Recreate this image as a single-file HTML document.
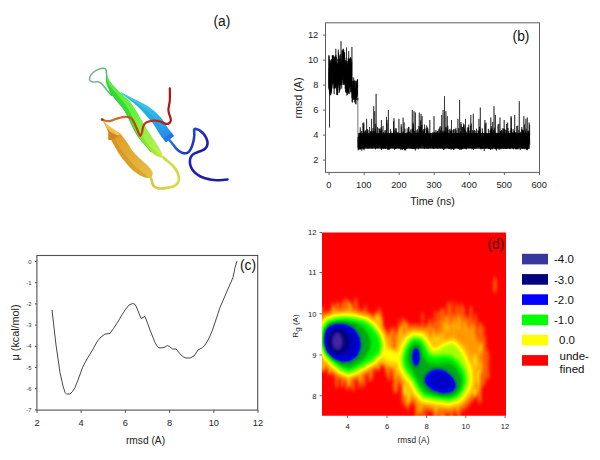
<!DOCTYPE html>
<html><head><meta charset="utf-8"><title>figure</title>
<style>
html,body{margin:0;padding:0;background:#fff;}
body{width:600px;height:460px;overflow:hidden;font-family:"Liberation Sans",sans-serif;}
svg{display:block;}
svg text{font-family:"Liberation Sans",sans-serif;}
</style></head><body>
<svg width="600" height="460" viewBox="0 0 600 460">
<rect width="600" height="460" fill="#fff"/>
<g id="pa">
<defs>
<filter id="soft" x="60" y="50" width="200" height="160" filterUnits="userSpaceOnUse"><feGaussianBlur stdDeviation="0.45"/></filter>
<linearGradient id="gGreen" gradientUnits="userSpaceOnUse" x1="104" y1="80" x2="164" y2="158">
 <stop offset="0" stop-color="#2fd23a"/><stop offset="0.45" stop-color="#38e030"/><stop offset="0.75" stop-color="#86e82c"/><stop offset="1" stop-color="#c8e838"/></linearGradient>
<linearGradient id="gGreenHi" gradientUnits="userSpaceOnUse" x1="104" y1="80" x2="164" y2="158">
 <stop offset="0" stop-color="#63f04a"/><stop offset="0.5" stop-color="#7cf83c"/><stop offset="1" stop-color="#d4f060"/></linearGradient>
<linearGradient id="gCyan" gradientUnits="userSpaceOnUse" x1="122" y1="93" x2="172" y2="139">
 <stop offset="0" stop-color="#46cfd8"/><stop offset="0.45" stop-color="#2fc0ea"/><stop offset="0.8" stop-color="#2a9ef0"/><stop offset="1" stop-color="#2a7ee6"/></linearGradient>
<linearGradient id="gOrange" gradientUnits="userSpaceOnUse" x1="108" y1="133" x2="150" y2="177">
 <stop offset="0" stop-color="#df9a2a"/><stop offset="0.5" stop-color="#e4aa34"/><stop offset="1" stop-color="#e6be44"/></linearGradient>
<linearGradient id="gBlue" gradientUnits="userSpaceOnUse" x1="168" y1="140" x2="228" y2="180">
 <stop offset="0" stop-color="#2a7ee6"/><stop offset="0.22" stop-color="#2448cc"/><stop offset="0.45" stop-color="#1c1cae"/><stop offset="1" stop-color="#1c1ca0"/></linearGradient>
<linearGradient id="gYellow" gradientUnits="userSpaceOnUse" x1="180" y1="160" x2="150" y2="186">
 <stop offset="0" stop-color="#c4de3e"/><stop offset="0.5" stop-color="#dcdc48"/><stop offset="1" stop-color="#d6c440"/></linearGradient>
<linearGradient id="gRed" gradientUnits="userSpaceOnUse" x1="102" y1="120" x2="172" y2="110">
 <stop offset="0" stop-color="#c8782c"/><stop offset="0.3" stop-color="#cc6422"/><stop offset="0.5" stop-color="#c83a14"/><stop offset="0.75" stop-color="#c02412"/><stop offset="1" stop-color="#a81414"/></linearGradient>
<linearGradient id="gLoop" gradientUnits="userSpaceOnUse" x1="89" y1="78" x2="108" y2="78">
 <stop offset="0" stop-color="#86aaa2"/><stop offset="0.55" stop-color="#7ab294"/><stop offset="0.85" stop-color="#5cbc6c"/><stop offset="1" stop-color="#3cc84c"/></linearGradient>
</defs>
<g filter="url(#soft)">
<path d="M111.5,95.3C111,94.8 109.6,93.5 108.5,92.2C107.4,91 106.2,89.2 105,87.8C103.8,86.4 102.7,84.6 101.5,83.6C100.3,82.6 99.1,82.1 98,81.8C96.9,81.5 96,82 95,82C94,82 92.9,82.1 92,81.7C91.1,81.3 89.7,80.8 89.5,79.6C89.3,78.4 89.9,76.3 91,74.8C92.1,73.3 94.4,71.5 96.3,70.4C98.2,69.3 100.9,68.5 102.4,68.3C104,68.1 104.9,68.3 105.6,69C106.3,69.7 106.2,71.4 106.4,72.5C106.6,73.6 106.6,74.6 106.7,75.7C106.8,76.8 107,78.5 107,79" fill="none" stroke="url(#gLoop)" stroke-width="1.5" stroke-linecap="round"/>
<path d="M120.5,91.8C121.4,92.3 124.3,93.9 126.1,94.8C127.8,95.7 129.3,96.4 131,97.3C132.7,98.2 134.7,99.2 136.4,100.1C138.2,101 139.8,101.8 141.5,102.7C143.2,103.6 145.1,104.5 146.7,105.4C148.2,106.3 149.5,107.2 150.8,108.2C152.1,109.2 153.1,109.9 154.6,111.3C156.1,112.7 158.4,115 159.8,116.5C161.2,118 161.9,118.8 163,120.3C164.1,121.8 164.9,123.4 166.1,125.2C167.3,127 169.1,129.5 170.4,131.3C171.7,133.1 173.3,135.3 173.9,136.1L166.1,142.2C165.5,141.5 164,140.3 162.6,138.3C161.2,136.3 159,132.9 157.4,130.4C155.8,127.9 154.5,125.5 153,123.5C151.5,121.5 150.3,120.3 148.5,118.3C146.7,116.3 144.4,113.5 142.4,111.3C140.4,109.1 138.5,107.2 136.3,105.2C134.1,103.2 131.4,101.3 129,99.5C126.6,97.7 123.2,95.3 122,94.5Z" fill="url(#gCyan)"/>
<path d="M123,94.5C124.3,95.3 128.3,97.8 131,99.5C133.7,101.2 136.4,102.8 139,104.5C141.6,106.2 144.2,108 146.5,110C148.8,112 151,114.2 153,116.5C155,118.8 156.8,121.1 158.5,123.5C160.2,125.9 161.6,128.4 163.5,131C165.4,133.6 168.8,137.8 169.8,139.2L166.1,142.2C165.5,141.5 164,140.3 162.6,138.3C161.2,136.3 159,132.9 157.4,130.4C155.8,127.9 154.5,125.5 153,123.5C151.5,121.5 150.3,120.3 148.5,118.3C146.7,116.3 144.4,113.5 142.4,111.3C140.4,109.1 138.5,107.2 136.3,105.2C134.1,103.2 130.2,100.5 129,99.5Z" fill="#1d8fd0" opacity="0.35"/>
<polygon points="173.9,136.1 166.1,142.2 163.6,138.6 171.8,132.5" fill="#2a6ee0" opacity="0.85"/>
<path d="M107.2,76C107.4,76.5 108.1,78 108.6,79C109.1,80 109.3,80.5 110.2,81.7C111.1,82.9 112.4,84.6 113.7,86.1C115,87.5 116.5,89 118,90.4C119.5,91.9 121,93.5 122.4,94.8C123.8,96.1 125.2,97.3 126.5,98.5C127.8,99.7 128.7,100.3 130,102C131.3,103.7 133.3,106.8 134.6,108.7C135.9,110.6 136.7,112 137.6,113.5C138.5,115 139,116.1 139.8,117.4C140.6,118.7 141.4,120 142.3,121.5C143.2,123 143.7,123.9 145,126.1C146.3,128.3 148.4,132.1 150.2,134.8C152,137.6 154.1,140.1 155.7,142.6C157.3,145.1 158.9,147.7 160,149.6C161.1,151.5 161.7,153.3 162,154L163,158C162.5,157.9 161.1,157.6 160,157.3C158.9,157 157.9,156.8 156.5,156C155.1,155.2 153.2,154 151.3,152.2C149.4,150.4 147.1,147.4 145.2,145.2C143.3,143 141.4,141.2 139.8,139C138.2,136.8 137,135.1 135.4,132.2C133.8,129.3 131.9,125.2 130.2,121.7C128.5,118.2 126.5,113.9 125,111.3C123.5,108.7 122.5,107.9 121,106C119.5,104.1 117.5,101.9 116,100C114.5,98.1 113.1,96.4 112,94.8C110.9,93.2 110.1,91.9 109.3,90.4C108.5,89 107.8,87.5 107.2,86.1C106.7,84.6 106.2,83.2 106,81.7C105.8,80.2 105.8,77.8 105.8,77Z" fill="url(#gGreen)"/>
<path d="M107.2,76C107.4,76.5 108.1,78 108.6,79C109.1,80 109.3,80.5 110.2,81.7C111.1,82.9 112.4,84.6 113.7,86.1C115,87.5 116.5,89 118,90.4C119.5,91.9 121,93.5 122.4,94.8C123.8,96.1 125.2,97.3 126.5,98.5C127.8,99.7 128.7,100.3 130,102C131.3,103.7 133.3,106.8 134.6,108.7C135.9,110.6 136.7,112 137.6,113.5C138.5,115 139,116.1 139.8,117.4C140.6,118.7 141.4,120 142.3,121.5C143.2,123 143.7,123.9 145,126.1C146.3,128.3 148.4,132.1 150.2,134.8C152,137.6 154.1,140.1 155.7,142.6C157.3,145.1 158.9,147.7 160,149.6C161.1,151.5 161.7,153.3 162,154L162,156C161.1,155.3 158.5,153.7 156.5,152C154.5,150.3 152.2,148.3 150,146C147.8,143.7 145.5,140.9 143.5,138C141.5,135.1 139.8,132 138,128.5C136.2,125 134.3,120.6 132.5,117C130.7,113.4 128.9,110 127,107C125.1,104 123.2,101.7 121,99C118.8,96.3 116,93.3 114,91C112,88.7 110.2,87 109,85C107.8,83 107.2,80 106.8,79Z" fill="url(#gGreenHi)" opacity="0.75"/>
<path d="M109.3,90.4C109.8,91.1 110.9,93.2 112,94.8C113.1,96.4 114.5,98.1 116,100C117.5,101.9 119.5,104.1 121,106C122.5,107.9 123.5,108.7 125,111.3C126.5,113.9 128.5,118.2 130.2,121.7C131.9,125.2 133.8,129.3 135.4,132.2C137,135.1 138.2,136.8 139.8,139C141.4,141.2 143.3,143 145.2,145.2C147.1,147.4 150.3,151 151.3,152.2" fill="none" stroke="#1e9c2c" stroke-width="1" opacity="0.55"/>
<path d="M163.2,157.5C163.8,158 165.2,159 166.8,160.4C168.4,161.8 171,163.6 172.8,165.7C174.6,167.8 176.6,170.4 177.6,172.8C178.6,175.2 179.2,177.9 178.9,180C178.6,182.1 177.5,184 175.5,185.3C173.5,186.6 169.9,187.3 167,187.8C164.1,188.3 160.3,188.7 158,188.3C155.7,187.9 154.4,186.9 153.3,185.5C152.2,184.1 152.2,181.7 151.6,180C151,178.3 150.3,176.2 150,175.5" fill="none" stroke="url(#gYellow)" stroke-width="2.7" stroke-linecap="round"/>
<path d="M111,139.6C111.6,140.7 113.3,143.9 114.5,146C115.7,148.1 116.8,150 118,152C119.2,154 120.6,156.1 122,158C123.4,159.9 125.1,161.8 126.5,163.5C127.9,165.2 129.1,166.6 130.5,168C131.9,169.4 133.4,170.6 134.8,171.7C136.2,172.8 137.6,173.9 139,174.8C140.4,175.7 142.8,176.6 143.5,177 C146.5,178.6 151.5,178.8 152.8,174 L152.4,171.5 L150,168.3 L147,164.8 L143,161.5 L139.1,157.8 L134.8,153.5 L131.5,149.5 L128.7,144.8 L125,139.5 L120.9,134.3Z" fill="url(#gOrange)"/>
<path d="M111,139.6C111.6,140.7 113.3,143.9 114.5,146C115.7,148.1 116.8,150 118,152C119.2,154 120.6,156.1 122,158C123.4,159.9 125.1,161.8 126.5,163.5C127.9,165.2 129.1,166.6 130.5,168C131.9,169.4 133.4,170.6 134.8,171.7C136.2,172.8 137.6,173.9 139,174.8C140.4,175.7 142.8,176.6 143.5,177L148.5,177.3 L145,174.5 L140,170.5 L135.5,166.5 L131,162 L126.5,156.5 L122,150.5 L118,144.5 L114,138.2Z" fill="#c98a1c" opacity="0.45"/>
<polygon points="103,121 105.5,123.5 110,127.5 116,131.2 121.2,134.2 116,137.8 111,140 108.2,140 108.2,132 106,127" fill="#cf8620"/>
<polygon points="103.8,122 107,124.4 112,128 121.2,134.2 117.5,135.6 110.5,132 106.3,127.4" fill="#f2c246"/>
<path d="M102.1,119.6C102.8,119.8 104.6,120.8 106,121C107.4,121.2 109,121.2 110.5,120.9C112,120.6 113.5,119.8 115,119.3C116.5,118.8 118,118.3 119.6,117.9C121.2,117.5 123,116.9 124.5,116.8C126,116.7 127.5,116.8 128.7,117.1C129.9,117.4 130.7,117.9 131.5,118.6C132.3,119.3 132.8,119.8 133.6,121.4C134.4,123 135.8,126.1 136.6,128C137.4,129.9 138,131.7 138.6,133C139.2,134.3 139.7,135.9 140.3,135.8C140.9,135.7 141.5,134.1 142,132.5C142.5,130.9 142.5,128.2 143.2,126.5C143.8,124.8 144.6,123.5 145.9,122.6C147.2,121.6 149.5,121.1 151.1,120.8C152.7,120.5 154.2,120.6 155.5,120.7C156.8,120.8 158,120.9 159.2,121.2C160.4,121.5 161.5,122.1 162.5,122.5C163.5,122.9 164.2,123.4 165.2,123.6C166.2,123.8 167.6,123.9 168.5,123.6C169.4,123.3 170,122.6 170.4,121.8C170.8,121 170.9,120.1 170.7,118.7C170.5,117.3 169.4,115 169,113.5C168.6,112 168.4,111.1 168.4,109.6C168.4,108.1 169,106 169.2,104.5C169.4,103 169.7,102.2 169.8,100.5C169.9,98.8 169.9,96 169.9,94C169.9,92 169.8,89.2 169.8,88.3" fill="none" stroke="url(#gRed)" stroke-width="2.2" stroke-linecap="round" stroke-linejoin="round"/>
<circle cx="102.2" cy="119.6" r="1.4" fill="#8a3a10"/>
<path d="M168.5,139.3C169,139.8 170.3,141 171.5,142.5C172.7,144 174.7,146.8 175.9,148.2C177.2,149.6 177.9,150.2 179,151C180.1,151.8 181.5,152.5 182.7,152.9C183.9,153.3 185,153.4 186,153.2C187,153 188,152.6 188.8,151.8C189.6,151 190.4,149.7 191,148.5C191.6,147.3 192.1,145.9 192.6,144.4C193.1,142.9 193.5,141 193.8,139.5C194.1,138 194.2,136.5 194.3,135.2C194.4,133.9 194.2,132.5 194.2,131.5C194.2,130.5 193.8,129.6 194.3,129.2C194.8,128.8 196,128.9 197,129.2C198,129.5 199.2,130.1 200.3,130.9C201.4,131.7 202.8,133 203.8,134.2C204.8,135.4 205.7,137 206.3,138.3C206.9,139.6 207.4,140.7 207.5,142C207.6,143.3 207.5,144.8 207.1,145.9C206.7,147 205.9,147.9 205,148.7C204.1,149.5 203,150 201.8,150.6C200.6,151.2 199.3,151.5 198,152C196.7,152.5 195.3,153.1 194.2,153.7C193.1,154.3 192.2,155 191.6,155.8C190.9,156.6 190.6,157.5 190.3,158.5C190,159.5 189.9,160.8 189.9,162C189.9,163.2 190.1,164.4 190.5,165.7C190.9,167 191.6,168.5 192.5,169.8C193.4,171.1 194.4,172.2 195.7,173.3C197,174.4 198.7,175.6 200.5,176.5C202.3,177.4 204.5,178 206.3,178.6C208.1,179.2 209.7,179.5 211.5,179.8C213.3,180.1 215.2,180.2 217,180.2C218.8,180.2 220.8,180.1 222.5,180C224.2,179.9 226.7,179.6 227.5,179.5" fill="none" stroke="url(#gBlue)" stroke-width="2.6" stroke-linecap="round" stroke-linejoin="round"/>
</g>
<text x="213.4" y="26.1" font-size="13.8" fill="#111">(a)</text>
</g>
<g id="pb">
<path d="M328.8,68.4 328.8,72.1 328.9,89.5 328.9,55 329,87.9 329,68 329.1,56.1 329.1,61 329.2,81.2 329.3,85.5 329.3,72.5 329.4,91.7 329.4,82.6 329.5,78.4 329.5,127.5 329.6,76.6 329.6,59.4 329.7,81.3 329.8,94.4 329.8,65.9 329.9,67.6 329.9,72.6 330,75 330,92.8 330.1,66.4 330.2,85.4 330.2,91.8 330.3,95.4 330.3,82 330.4,92.8 330.4,67.2 330.5,87.9 330.5,63.6 330.6,90.6 330.7,74.7 330.7,95 330.8,60.3 330.8,75.4 330.9,61 330.9,62.2 331,91.9 331.1,92.5 331.1,81.8 331.2,93.7 331.2,91.8 331.3,69 331.3,78.4 331.4,59.2 331.4,89.2 331.5,79.3 331.6,91 331.6,72.7 331.7,73 331.7,60.5 331.8,86.6 331.8,71.8 331.9,61.8 331.9,59.5 332,82.2 332.1,76.5 332.1,66.8 332.2,75.1 332.2,75.3 332.3,80.9 332.3,55.4 332.4,69.8 332.5,63.1 332.5,59.3 332.6,60 332.6,59.6 332.7,55.3 332.7,83.8 332.8,58.6 332.8,56 332.9,67.3 333,88.5 333,55.1 333.1,58.7 333.1,80.3 333.2,68.5 333.2,57 333.3,73.7 333.4,55.6 333.4,70.9 333.5,73.3 333.5,83.3 333.6,77.9 333.6,70.9 333.7,81.3 333.7,60.8 333.8,57.6 333.9,69.6 333.9,77.4 334,76.5 334,59.7 334.1,76.2 334.1,92 334.2,94.1 334.3,65.6 334.3,88.3 334.4,61.2 334.4,86.5 334.5,58.6 334.5,88.7 334.6,88.3 334.6,61.1 334.7,83.2 334.8,76.1 334.8,56.7 334.9,83.3 334.9,88.2 335,59.8 335,59.4 335.1,66.9 335.1,75.5 335.2,55.7 335.3,58.7 335.3,59 335.4,57.5 335.4,86.1 335.5,85 335.5,83 335.6,80.5 335.7,82.9 335.7,88.3 335.8,48.8 335.8,87.9 335.9,75.3 335.9,71.9 336,55.2 336,67.3 336.1,79.8 336.2,64.7 336.2,86.1 336.3,65.8 336.3,83.9 336.4,76.9 336.4,57.3 336.5,58 336.6,75.1 336.6,88.1 336.7,95 336.7,87.3 336.8,84.6 336.8,70.5 336.9,62.4 336.9,91.2 337,69.4 337.1,68.6 337.1,63.9 337.2,64.3 337.2,64.6 337.3,68 337.3,93.9 337.4,63.9 337.5,71.1 337.5,95 337.6,68.1 337.6,95.2 337.7,88.3 337.7,89.9 337.8,58.8 337.8,70.6 337.9,72 338,84.8 338,82.5 338.1,83.3 338.1,67.4 338.2,76.2 338.2,87.8 338.3,49.6 338.3,57.5 338.4,81.5 338.5,81.3 338.5,52.8 338.6,52.5 338.6,77.9 338.7,67.4 338.7,78.3 338.8,76.9 338.9,61.7 338.9,85.6 339,80 339,78.7 339.1,78.2 339.1,93 339.2,59.1 339.2,84.9 339.3,58.5 339.4,62.7 339.4,70.1 339.5,90.4 339.5,70 339.6,91.6 339.6,79.6 339.7,63.8 339.8,80.4 339.8,75.2 339.9,55.8 339.9,81 340,82.9 340,85 340.1,78.3 340.1,54.5 340.2,69.4 340.3,76 340.3,84.7 340.4,63 340.4,77.4 340.5,69.4 340.5,84.3 340.6,60.9 340.7,89.4 340.7,54.5 340.8,78.2 340.8,84.5 340.9,64.6 340.9,65.5 341,65.1 341,41.2 341.1,85.1 341.2,67.6 341.2,70.6 341.3,83.4 341.3,73.6 341.4,66.7 341.4,82.6 341.5,65.3 341.5,65.1 341.6,80.7 341.7,88.5 341.7,74.5 341.8,62 341.8,80.2 341.9,80.4 341.9,58.7 342,79.2 342.1,71.4 342.1,72 342.2,50.7 342.2,72.4 342.3,54.2 342.3,72.6 342.4,50.4 342.4,70 342.5,71.9 342.6,70.7 342.6,79.7 342.7,53.8 342.7,67.8 342.8,51.1 342.8,72.2 342.9,54.6 343,83.7 343,73.6 343.1,49.1 343.1,60.7 343.2,54.5 343.2,53.7 343.3,58.8 343.3,64.5 343.4,48.8 343.5,64.9 343.5,75.9 343.6,54.5 343.6,73.9 343.7,84.9 343.7,58.4 343.8,65.9 343.8,50.1 343.9,83.2 344,68.1 344,72.3 344.1,62.6 344.1,82.6 344.2,77.9 344.2,83 344.3,80 344.4,76 344.4,52.3 344.5,65 344.5,83.7 344.6,52.6 344.6,78.3 344.7,66.4 344.7,71.7 344.8,57.7 344.9,83 344.9,74 345,81.1 345,77.3 345.1,66 345.1,62 345.2,88.8 345.3,68.4 345.3,85.3 345.4,80.8 345.4,80.1 345.5,60.2 345.5,78 345.6,91.6 345.6,76.8 345.7,77.4 345.8,92.6 345.8,91.5 345.9,82.7 345.9,76.3 346,90.8 346,86.3 346.1,61.1 346.2,61.9 346.2,62.4 346.3,66.3 346.3,81.1 346.4,87.5 346.4,76.7 346.5,47.5 346.5,92.9 346.6,62.9 346.7,72.1 346.7,79.4 346.8,79.7 346.8,95.6 346.9,77.7 346.9,78.5 347,79.8 347,92.9 347.1,76.1 347.2,67.9 347.2,76.4 347.3,60.9 347.3,64.2 347.4,89.1 347.4,79.8 347.5,67.7 347.6,94.9 347.6,63.4 347.7,66.9 347.7,92 347.8,80.4 347.8,92.2 347.9,72.2 347.9,92.1 348,70.5 348.1,71.5 348.1,90.3 348.2,65 348.2,58.5 348.3,80.2 348.3,67.1 348.4,70.5 348.5,73.2 348.5,93.7 348.6,71.7 348.6,92.2 348.7,70 348.7,51.3 348.8,74.5 348.8,77.9 348.9,58.8 349,69.6 349,63.7 349.1,68.8 349.1,79.7 349.2,67.9 349.2,60.4 349.3,86.4 349.4,58.9 349.4,87.1 349.5,75.7 349.5,82.7 349.6,93.1 349.6,94.1 349.7,68.1 349.7,87.4 349.8,88.3 349.9,71.7 349.9,69 350,67.2 350,86.9 350.1,58 350.1,87 350.2,81.5 350.2,82 350.3,66.9 350.4,57 350.4,60.5 350.5,67.1 350.5,71.1 350.6,59.4 350.6,58.1 350.7,84.6 350.8,67.2 350.8,92.4 350.9,65.4 350.9,91.8 351,87.7 351,89.1 351.1,68.2 351.1,70.1 351.2,64.9 351.3,80.9 351.3,81.4 351.4,78.1 351.4,58.6 351.5,89.8 351.5,79.9 351.6,72 351.7,61.1 351.7,92.2 351.8,91.9 351.8,76.9 351.9,81.6 351.9,46.9 352,98 352,85.4 352.1,87.4 352.2,101.9 352.2,83.2 352.3,88.2 352.3,94.7 352.4,81.1 352.4,102.7 352.5,97.3 352.6,89.8 352.6,91.8 352.7,89.4 352.7,88 352.8,85 352.8,94 352.9,81.2 352.9,85.6 353,91.6 353.1,83.2 353.1,91.6 353.2,80.7 353.2,96 353.3,85 353.3,99.2 353.4,97.1 353.4,99.7 353.5,94.7 353.6,83.6 353.6,98.6 353.7,91.1 353.7,77.5 353.8,89.9 353.8,97.2 353.9,97.2 354,92.7 354,81.6 354.1,84.1 354.1,91.1 354.2,99.6 354.2,84.3 354.3,80.3 354.3,85.2 354.4,93.4 354.5,81.2 354.5,83 354.6,85.8 354.6,87.9 354.7,88.7 354.7,102.4 354.8,87.1 354.9,88.6 354.9,93.1 355,88.1 355,80.7 355.1,99.7 355.1,94.9 355.2,93 355.2,91.3 355.3,101.2 355.4,91.5 355.4,103.7 355.5,88 355.5,93.6 355.6,93.8 355.6,97.4 355.7,89.5 355.8,97.1 355.8,81.3 355.9,97.9 355.9,96.1 356,104.4 356,88.3 356.1,96.9 356.1,86.6 356.2,80.8 356.3,84.8 356.3,95.5 356.4,85.2 356.4,83.9 356.5,90.8 356.5,100 356.6,88.5 356.6,83.8 356.7,97.2 356.8,91.1 356.8,95.2 356.9,81.4 356.9,97.1 357,92 357,84.3 357.1,95.8 357.2,90.7 357.2,91.5 357.3,93.9 357.3,79.7 357.4,82.2 357.4,80.3 357.5,82.2 357.5,87.7 357.6,79.2 357.7,86.9 357.7,100.4 357.8,97.7 357.8,99.7 357.9,136.7 357.9,140.5 358,141 358.1,147.6 358.1,136.9 358.2,142.6 358.2,150.3 358.3,141.4 358.3,140 358.4,149.2 358.4,139.1 358.5,145.1 358.6,146.6 358.6,148.4 358.7,141.7 358.7,140.5 358.8,148.7 358.8,144.9 358.9,144.1 358.9,149.2 359,140.6 359.1,145.5 359.1,142.1 359.2,136.6 359.2,145.3 359.3,138.2 359.3,135.7 359.4,146.1 359.5,143.2 359.5,139.1 359.6,139.3 359.6,140.3 359.7,147.4 359.7,136.1 359.8,148.7 359.8,138.9 359.9,143.2 360,150 360,146.1 360.1,146.7 360.1,145.2 360.2,132.2 360.2,141.2 360.3,127.4 360.4,146.5 360.4,148.5 360.5,136.4 360.5,145.7 360.6,148.1 360.6,148.5 360.7,134.4 360.7,139.7 360.8,139.6 360.9,143.4 360.9,149.1 361,140.2 361,144.9 361.1,142.9 361.1,142.1 361.2,146.9 361.3,141.2 361.3,141.4 361.4,134.5 361.4,148 361.5,144 361.5,131 361.6,144.3 361.6,143.9 361.7,135.8 361.8,150.7 361.8,140.6 361.9,148.2 361.9,143.6 362,148.3 362,142.2 362.1,141.2 362.1,145.7 362.2,148 362.3,142.9 362.3,148.4 362.4,136.2 362.4,147.6 362.5,140.5 362.5,144 362.6,143.2 362.7,140.2 362.7,146.9 362.8,145.5 362.8,147.1 362.9,142.8 362.9,122.8 363,136.9 363,146.3 363.1,146.8 363.2,149.3 363.2,147.6 363.3,132.8 363.3,131.6 363.4,142.5 363.4,143.4 363.5,136.2 363.6,143.2 363.6,124.3 363.7,143.8 363.7,134.8 363.8,136.1 363.8,122.5 363.9,142.2 363.9,146.9 364,150.1 364.1,150.2 364.1,146.9 364.2,149 364.2,148.8 364.3,145.7 364.3,144.7 364.4,132.4 364.5,141.4 364.5,144 364.6,145.1 364.6,146.1 364.7,144.6 364.7,145.6 364.8,146.4 364.8,141.1 364.9,145 365,145.1 365,146.8 365.1,130.9 365.1,143.6 365.2,145 365.2,141.2 365.3,143.8 365.3,131 365.4,143.7 365.5,144.8 365.5,140.4 365.6,144.9 365.6,138.5 365.7,143.6 365.7,142.1 365.8,134.5 365.9,146.5 365.9,139 366,145.2 366,129.9 366.1,140.7 366.1,142.1 366.2,136 366.2,142.2 366.3,139.8 366.4,145.7 366.4,132.3 366.5,137.8 366.5,146.4 366.6,147.3 366.6,118.8 366.7,136.3 366.8,135.5 366.8,133.9 366.9,138.1 366.9,140.9 367,146.9 367,140.2 367.1,140.6 367.1,138.8 367.2,139.6 367.3,137.9 367.3,145.3 367.4,142.6 367.4,140.7 367.5,146.5 367.5,129.1 367.6,138 367.7,145.2 367.7,146.7 367.8,134 367.8,138.2 367.9,147.6 367.9,148 368,129.9 368,148.8 368.1,141.6 368.2,145.9 368.2,138.8 368.3,138.5 368.3,145.5 368.4,142.7 368.4,139.2 368.5,139.6 368.5,144.5 368.6,136.7 368.7,145.8 368.7,139.6 368.8,140.1 368.8,147.3 368.9,142.1 368.9,145.7 369,140.6 369.1,140.4 369.1,142.5 369.2,146.8 369.2,139.9 369.3,137.9 369.3,147 369.4,134.1 369.4,144.9 369.5,134.3 369.6,127 369.6,135.8 369.7,141.9 369.7,135.5 369.8,140.1 369.8,141.6 369.9,138.3 370,146.1 370,144.3 370.1,140.4 370.1,141.5 370.2,146.2 370.2,138.3 370.3,146.3 370.3,138.3 370.4,142.4 370.5,136 370.5,143.6 370.6,138.8 370.6,131.4 370.7,137.3 370.7,142.4 370.8,144.2 370.8,142.8 370.9,137.9 371,130.8 371,144.8 371.1,142.9 371.1,140.5 371.2,136.8 371.2,136.2 371.3,148.2 371.4,142.4 371.4,145.8 371.5,147.3 371.5,136.8 371.6,118.8 371.6,144.8 371.7,132.2 371.7,147 371.8,147.3 371.9,145.6 371.9,133.6 372,142.5 372,130.8 372.1,138.6 372.1,147.7 372.2,143.1 372.3,145.2 372.3,138.9 372.4,148.3 372.4,146.9 372.5,132.9 372.5,144.2 372.6,140.7 372.6,139.9 372.7,144.9 372.8,143.9 372.8,145.5 372.9,135.5 372.9,140.3 373,145.2 373,128 373.1,142.2 373.2,131 373.2,136.2 373.3,141.9 373.3,145.2 373.4,141.4 373.4,136.9 373.5,134.6 373.5,144.4 373.6,134.1 373.7,106.2 373.7,141.4 373.8,138.9 373.8,143 373.9,146.2 373.9,145 374,143.8 374,143.1 374.1,142.1 374.2,137.6 374.2,147.8 374.3,143.4 374.3,131.8 374.4,140.5 374.4,145.7 374.5,140.7 374.6,140.8 374.6,145.7 374.7,128.8 374.7,111.2 374.8,137.7 374.8,146.7 374.9,144.1 374.9,136.6 375,145.1 375.1,131.2 375.1,136.2 375.2,142.6 375.2,136.5 375.3,129.2 375.3,145.7 375.4,146.6 375.5,133.5 375.5,149.3 375.6,144.2 375.6,140.2 375.7,147.9 375.7,123.9 375.8,136.1 375.8,139.9 375.9,133.6 376,141.9 376,146.7 376.1,147.2 376.1,93.8 376.2,145.8 376.2,144.8 376.3,147 376.4,134.3 376.4,143.7 376.5,142.2 376.5,145.4 376.6,138.1 376.6,134.3 376.7,139.4 376.7,146.5 376.8,145.1 376.9,144.5 376.9,142.4 377,143.5 377,141.6 377.1,145.4 377.1,137.9 377.2,144 377.2,140 377.3,146.4 377.4,147.2 377.4,145.8 377.5,144.2 377.5,127.1 377.6,147.1 377.6,144.2 377.7,145.1 377.8,140.9 377.8,147.6 377.9,138.1 377.9,145 378,134.5 378,137.8 378.1,137.5 378.1,145.8 378.2,136.3 378.3,138.6 378.3,142.9 378.4,136.4 378.4,139.3 378.5,139.5 378.5,140.1 378.6,134.1 378.7,137.9 378.7,135.7 378.8,142.9 378.8,144 378.9,139 378.9,134.4 379,128 379,133.9 379.1,136.2 379.2,145 379.2,140.4 379.3,135 379.3,142.4 379.4,137 379.4,129.2 379.5,140.4 379.6,145.7 379.6,141.8 379.7,134.6 379.7,144.8 379.8,146.7 379.8,145.4 379.9,133.4 379.9,147.1 380,146.7 380.1,145.5 380.1,137.3 380.2,141.7 380.2,140.5 380.3,131 380.3,143.1 380.4,144.7 380.4,139.8 380.5,139.9 380.6,145.7 380.6,146.2 380.7,142.3 380.7,129.2 380.8,147 380.8,145.3 380.9,144.7 381,141.7 381,127.4 381.1,138 381.1,138.3 381.2,143.8 381.2,144.5 381.3,147.2 381.3,149.7 381.4,120 381.5,143 381.5,140.1 381.6,149.5 381.6,148.7 381.7,140.4 381.7,147.4 381.8,146.4 381.9,129.4 381.9,138.9 382,144.2 382,139.3 382.1,145.7 382.1,142.6 382.2,143.3 382.2,146.7 382.3,145.2 382.4,144.8 382.4,137.2 382.5,142.3 382.5,145.9 382.6,140.6 382.6,147.8 382.7,144 382.8,147.9 382.8,137.8 382.9,137.6 382.9,147.6 383,125.8 383,139.1 383.1,145.7 383.1,149.2 383.2,140.3 383.3,137.6 383.3,142.7 383.4,145.3 383.4,144.2 383.5,142.2 383.5,144.4 383.6,136.5 383.6,132 383.7,147.5 383.8,145.9 383.8,142.8 383.9,144.9 383.9,146.5 384,134.5 384,138.9 384.1,140.4 384.2,140 384.2,147.1 384.3,133.9 384.3,139.3 384.4,136.4 384.4,147.9 384.5,147 384.5,143 384.6,145.6 384.7,136.2 384.7,148.1 384.8,144.3 384.8,141.8 384.9,137.4 384.9,143.6 385,144 385.1,130.1 385.1,145.3 385.2,130.6 385.2,148.8 385.3,147.8 385.3,137.7 385.4,147.5 385.4,146.2 385.5,144 385.6,148.7 385.6,142.8 385.7,144.3 385.7,143.3 385.8,147.5 385.8,142.8 385.9,144.9 385.9,138 386,145.8 386.1,138.7 386.1,140.7 386.2,143.8 386.2,136.7 386.3,139.8 386.3,146.1 386.4,142.9 386.5,116.9 386.5,141.8 386.6,143.4 386.6,135.5 386.7,145 386.7,142 386.8,123.3 386.8,140 386.9,140.6 387,146.7 387,120 387.1,144.1 387.1,142.1 387.2,146.3 387.2,145.3 387.3,147 387.4,137.5 387.4,145.5 387.5,144.2 387.5,140.4 387.6,141.6 387.6,147.6 387.7,149.5 387.7,145.9 387.8,142.5 387.9,146.3 387.9,145.5 388,147 388,150 388.1,148.8 388.1,147.2 388.2,148.4 388.3,149.2 388.3,138 388.4,136.4 388.4,110 388.5,140.1 388.5,138.2 388.6,143.2 388.6,143 388.7,146.2 388.8,147 388.8,140.9 388.9,136.5 388.9,140.7 389,144.2 389,142.2 389.1,133.7 389.1,149 389.2,145.3 389.3,149.8 389.3,136.5 389.4,137.7 389.4,137.2 389.5,146.2 389.5,139.2 389.6,141.6 389.7,144.3 389.7,142.2 389.8,146.5 389.8,139.1 389.9,142 389.9,143.3 390,148.7 390,142.7 390.1,141.9 390.2,143.2 390.2,141.1 390.3,138.8 390.3,145.6 390.4,143.4 390.4,129 390.5,145.7 390.6,146.3 390.6,137.9 390.7,138.4 390.7,135.6 390.8,146.8 390.8,136.5 390.9,144.3 390.9,139 391,146.8 391.1,145.2 391.1,131.3 391.2,145.6 391.2,141.9 391.3,139.4 391.3,138.9 391.4,139.5 391.5,145.9 391.5,133.8 391.6,145.4 391.6,133.7 391.7,137.3 391.7,139.2 391.8,143.5 391.8,139.6 391.9,143.8 392,134.9 392,146.4 392.1,140.8 392.1,147.1 392.2,142.6 392.2,142.1 392.3,138.1 392.3,133.6 392.4,145.9 392.5,138.1 392.5,140.8 392.6,145.5 392.6,141.3 392.7,141.8 392.7,134.5 392.8,137.9 392.9,143.5 392.9,140.3 393,143.8 393,147.2 393.1,146.3 393.1,132.6 393.2,145.4 393.2,144.3 393.3,139.8 393.4,144.9 393.4,146.7 393.5,146.6 393.5,127.9 393.6,138.9 393.6,121.2 393.7,147.2 393.8,141 393.8,147.7 393.9,142.9 393.9,145.4 394,118.2 394,137.6 394.1,135.7 394.1,144.4 394.2,146.7 394.3,144.9 394.3,141.2 394.4,139 394.4,149 394.5,142.6 394.5,146.7 394.6,140.9 394.7,134.3 394.7,149.8 394.8,146 394.8,129.9 394.9,146.4 394.9,145.4 395,145.6 395,140.6 395.1,137.1 395.2,140.9 395.2,138.6 395.3,142.4 395.3,148.3 395.4,144.3 395.4,148 395.5,140.7 395.5,148.6 395.6,146.9 395.7,145.3 395.7,135.1 395.8,128.3 395.8,143.9 395.9,135.7 395.9,140 396,149 396.1,132.6 396.1,134.9 396.2,146.4 396.2,128.3 396.3,141.6 396.3,136 396.4,140.6 396.4,133.6 396.5,139.8 396.6,138 396.6,141.7 396.7,131.8 396.7,139.7 396.8,138.5 396.8,146.2 396.9,139.6 397,139.2 397,133.1 397.1,145.8 397.1,134.5 397.2,146.3 397.2,145.2 397.3,145.5 397.3,146.1 397.4,142.9 397.5,143 397.5,144.7 397.6,141.8 397.6,147.6 397.7,132.5 397.7,146.4 397.8,147.8 397.9,142 397.9,137.1 398,145.8 398,147.7 398.1,141 398.1,147.8 398.2,134.6 398.2,135.3 398.3,143.7 398.4,138.8 398.4,132.2 398.5,142.9 398.5,144.1 398.6,137.1 398.6,143.8 398.7,139.7 398.7,140.1 398.8,139.2 398.9,139.6 398.9,118.8 399,130 399,147.6 399.1,145.9 399.1,145.9 399.2,139.3 399.3,148.6 399.3,138.5 399.4,146.1 399.4,134.5 399.5,136.7 399.5,148.2 399.6,134 399.6,146.9 399.7,143.7 399.8,143.9 399.8,145.2 399.9,146.4 399.9,138.6 400,137.4 400,140.8 400.1,143.3 400.2,133.4 400.2,136.8 400.3,143.1 400.3,142.2 400.4,145.4 400.4,147.1 400.5,138.9 400.5,146.5 400.6,136.2 400.7,148.4 400.7,147.5 400.8,150.1 400.8,148.1 400.9,147.5 400.9,143 401,146.5 401,146.5 401.1,146.2 401.2,124.2 401.2,146.7 401.3,147 401.3,143.7 401.4,131 401.4,126.8 401.5,148.7 401.6,147.5 401.6,147.5 401.7,133.4 401.7,146.8 401.8,146 401.8,136.6 401.9,146.1 401.9,143 402,146.3 402.1,139.2 402.1,147.3 402.2,149.7 402.2,139.8 402.3,148.8 402.3,144.2 402.4,146.3 402.5,142.8 402.5,145.2 402.6,149.6 402.6,134.6 402.7,143.7 402.7,147.1 402.8,136.5 402.8,148.7 402.9,131.3 403,142.7 403,143.9 403.1,117.6 403.1,133.9 403.2,140.7 403.2,146.9 403.3,147.1 403.4,148.7 403.4,145.3 403.5,145.9 403.5,131.6 403.6,146.4 403.6,138.8 403.7,144.4 403.7,141.9 403.8,148.3 403.9,138.6 403.9,138.8 404,138.8 404,147 404.1,142.4 404.1,143 404.2,122.5 404.2,138.3 404.3,147.8 404.4,142.1 404.4,138.1 404.5,136 404.5,150.2 404.6,144.5 404.6,143.7 404.7,147.6 404.8,147.3 404.8,146.3 404.9,128.7 404.9,138.2 405,142.2 405,142.1 405.1,149.6 405.1,144.1 405.2,145.1 405.3,145.2 405.3,150.6 405.4,138.1 405.4,149.2 405.5,138.8 405.5,147.1 405.6,148.5 405.7,147.1 405.7,136.7 405.8,148.8 405.8,146.8 405.9,136.2 405.9,141.8 406,133.4 406,139.4 406.1,149.3 406.2,145.2 406.2,138.7 406.3,147.3 406.3,140.3 406.4,148.4 406.4,146.1 406.5,140 406.6,146.9 406.6,144.7 406.7,146.8 406.7,148.6 406.8,147.8 406.8,142.9 406.9,137.4 406.9,148.8 407,141.8 407.1,145 407.1,145.6 407.2,145.8 407.2,128.5 407.3,142.6 407.3,132.1 407.4,145.8 407.4,142.3 407.5,144.8 407.6,147 407.6,147.5 407.7,145.7 407.7,145.1 407.8,142.5 407.8,142 407.9,134.7 408,147.3 408,145.1 408.1,135 408.1,136.1 408.2,146.1 408.2,142.1 408.3,142.9 408.3,147.2 408.4,137.6 408.5,141.8 408.5,127.3 408.6,136.3 408.6,145.3 408.7,142.6 408.7,144.7 408.8,147.2 408.9,126.8 408.9,147.1 409,146.1 409,131.9 409.1,140.2 409.1,144.5 409.2,141.4 409.2,131.7 409.3,132.7 409.4,139.3 409.4,144.3 409.5,146.2 409.5,141.6 409.6,139.2 409.6,144.6 409.7,142.7 409.8,131.8 409.8,133.9 409.9,144 409.9,148 410,146.8 410,141.7 410.1,148.5 410.1,143.1 410.2,140.4 410.3,147.5 410.3,145.7 410.4,142.6 410.4,140 410.5,143.3 410.5,147.2 410.6,140 410.6,129.6 410.7,139.8 410.8,143.1 410.8,144.9 410.9,133.4 410.9,140.3 411,142.9 411,146.5 411.1,134.9 411.2,144 411.2,135.6 411.3,148.3 411.3,148.8 411.4,147.8 411.4,144.2 411.5,143.6 411.5,141 411.6,142 411.7,144.1 411.7,139 411.8,135.5 411.8,144.1 411.9,146.9 411.9,146.5 412,147.9 412.1,128.9 412.1,144.5 412.2,139.4 412.2,133.7 412.3,110 412.3,148.9 412.4,135.5 412.4,148 412.5,140.9 412.6,145.1 412.6,146.4 412.7,147.8 412.7,144.6 412.8,147.5 412.8,138.7 412.9,128.4 412.9,133.3 413,148.1 413.1,141.2 413.1,122.7 413.2,141.7 413.2,148.9 413.3,144.3 413.3,146.9 413.4,124.4 413.5,141.5 413.5,148.2 413.6,144.7 413.6,143.4 413.7,148.9 413.7,142.4 413.8,146.7 413.8,138.3 413.9,144.9 414,146.7 414,111.2 414.1,145.4 414.1,144.7 414.2,134.9 414.2,138.7 414.3,131.1 414.4,145.8 414.4,137.1 414.5,148.6 414.5,143.6 414.6,146.2 414.6,145.2 414.7,140.6 414.7,131.4 414.8,131.9 414.9,137.4 414.9,141.6 415,141.3 415,142 415.1,138.7 415.1,136.6 415.2,148.3 415.3,150.6 415.3,138.8 415.4,141.9 415.4,112.5 415.5,137 415.5,143.5 415.6,142.2 415.6,142 415.7,145.1 415.8,149.3 415.8,134.1 415.9,146 415.9,145.8 416,141.5 416,137.3 416.1,138.9 416.1,132.6 416.2,137 416.3,142.1 416.3,147.7 416.4,136.7 416.4,136.3 416.5,141.2 416.5,142.2 416.6,136.1 416.7,135.4 416.7,145.4 416.8,140.3 416.8,142.7 416.9,141.5 416.9,130.3 417,134.5 417,132.9 417.1,138.4 417.2,135.8 417.2,137.6 417.3,133.6 417.3,129.2 417.4,129.5 417.4,138.2 417.5,146.7 417.6,134 417.6,144.9 417.7,142 417.7,133.4 417.8,137.1 417.8,146 417.9,139.6 417.9,141.9 418,136.8 418.1,144.1 418.1,141.8 418.2,149.3 418.2,139.1 418.3,135.8 418.3,145.8 418.4,132.5 418.5,133.9 418.5,142.3 418.6,144.7 418.6,141.1 418.7,143.6 418.7,145.5 418.8,141.7 418.8,141.4 418.9,125.9 419,144.1 419,143 419.1,145.8 419.1,147.3 419.2,139.7 419.2,145.1 419.3,112.5 419.3,140.4 419.4,137.3 419.5,129.2 419.5,132.2 419.6,133.2 419.6,143.3 419.7,139.7 419.7,141.2 419.8,147.6 419.9,134.1 419.9,136.2 420,146.6 420,127.2 420.1,132.7 420.1,136.1 420.2,144.9 420.2,147.5 420.3,145.6 420.4,135.2 420.4,134.7 420.5,138.4 420.5,133.6 420.6,142.7 420.6,120.4 420.7,145.6 420.8,139.6 420.8,134.7 420.9,133.6 420.9,130.7 421,132.7 421,113.8 421.1,144.7 421.1,136.6 421.2,130.4 421.3,137.7 421.3,140.3 421.4,125.4 421.4,140.4 421.5,125 421.5,134.3 421.6,144.3 421.7,145.6 421.7,136.7 421.8,124.9 421.8,140.3 421.9,130 421.9,142.7 422,138 422,142.2 422.1,116.2 422.2,140 422.2,145.1 422.3,134.2 422.3,137.8 422.4,141.8 422.4,132.7 422.5,144.1 422.5,133.1 422.6,137.2 422.7,139.7 422.7,140.4 422.8,143.2 422.8,145.2 422.9,134 422.9,136.3 423,136.3 423.1,142.2 423.1,135.8 423.2,143.9 423.2,142.6 423.3,130.9 423.3,129.4 423.4,130.9 423.4,140.1 423.5,131.5 423.6,142.4 423.6,139 423.7,141.3 423.7,146.3 423.8,146.1 423.8,141.6 423.9,143.5 424,140 424,147.6 424.1,143.4 424.1,129 424.2,135.1 424.2,131.4 424.3,140.7 424.3,141.4 424.4,146.8 424.5,145.1 424.5,140.9 424.6,124.5 424.6,148.8 424.7,128.8 424.7,147.3 424.8,139.1 424.9,143.1 424.9,146.8 425,147 425,138.1 425.1,146 425.1,143.3 425.2,146.9 425.2,136.3 425.3,136.6 425.4,141.3 425.4,136.4 425.5,144.1 425.5,134.2 425.6,136.7 425.6,138.8 425.7,139.4 425.7,147.4 425.8,147.9 425.9,142.1 425.9,145.6 426,137.6 426,142.9 426.1,140.9 426.1,142.2 426.2,128.1 426.3,144 426.3,136.6 426.4,147 426.4,141.2 426.5,146.8 426.5,146.9 426.6,146.6 426.6,144.9 426.7,125.5 426.8,144.5 426.8,138.4 426.9,148.8 426.9,138.8 427,147.1 427,129.6 427.1,138.9 427.2,144 427.2,144.1 427.3,143.6 427.3,139.2 427.4,127.3 427.4,145.1 427.5,148 427.5,147.7 427.6,140.5 427.7,132.5 427.7,146.4 427.8,140.1 427.8,142.7 427.9,146.1 427.9,128.5 428,137.2 428,131 428.1,140.1 428.2,140.8 428.2,143.3 428.3,148.7 428.3,140.6 428.4,145.2 428.4,147.1 428.5,143.1 428.6,141.2 428.6,138.5 428.7,135.2 428.7,141.2 428.8,139.6 428.8,146.5 428.9,140.7 428.9,146.2 429,147.5 429.1,136.3 429.1,146.8 429.2,137.4 429.2,140.5 429.3,135.2 429.3,138.6 429.4,142.8 429.5,147 429.5,134.1 429.6,138.5 429.6,144.7 429.7,135.6 429.7,139.2 429.8,120 429.8,139.9 429.9,141.7 430,146.9 430,142.2 430.1,136.5 430.1,139.3 430.2,141.8 430.2,140.9 430.3,147.6 430.4,136.9 430.4,141.8 430.5,147.7 430.5,132.9 430.6,145.8 430.6,144.1 430.7,145.5 430.7,140.8 430.8,146.1 430.9,147.5 430.9,140.3 431,144.3 431,142 431.1,144.6 431.1,142.1 431.2,139.2 431.2,143.2 431.3,140.8 431.4,145.7 431.4,143.6 431.5,139.1 431.5,142.5 431.6,139.6 431.6,141 431.7,139 431.8,144.8 431.8,138 431.9,143.3 431.9,141.9 432,145.4 432,144.7 432.1,139.8 432.1,139.8 432.2,140.8 432.3,142.3 432.3,135.7 432.4,141.9 432.4,142.3 432.5,142.1 432.5,142.5 432.6,146.9 432.7,135.2 432.7,145.8 432.8,147.5 432.8,134.1 432.9,132.1 432.9,142.7 433,147.5 433,145.9 433.1,147.3 433.2,134.5 433.2,135.1 433.3,135 433.3,148.7 433.4,137.9 433.4,141 433.5,146.5 433.6,142.4 433.6,146 433.7,144.6 433.7,141.3 433.8,147.2 433.8,148.6 433.9,148.1 433.9,144.8 434,116.2 434.1,134 434.1,147.5 434.2,143.6 434.2,140.8 434.3,131.9 434.3,148.1 434.4,138.1 434.4,146.9 434.5,145.7 434.6,137.5 434.6,147.5 434.7,143.9 434.7,143.1 434.8,144.5 434.8,138.1 434.9,132.3 435,143.4 435,147.4 435.1,146.2 435.1,147.5 435.2,143.9 435.2,137.9 435.3,142.7 435.3,135.3 435.4,141.8 435.5,147.8 435.5,147.7 435.6,137.1 435.6,142.5 435.7,145.1 435.7,141.7 435.8,134.7 435.9,140.8 435.9,130.1 436,139.7 436,143.4 436.1,133.7 436.1,142.3 436.2,143 436.2,146.5 436.3,131.7 436.4,141.4 436.4,145.7 436.5,146.8 436.5,142.8 436.6,141.8 436.6,144.3 436.7,147.3 436.8,147.1 436.8,139.7 436.9,147.7 436.9,145.8 437,140.3 437,142 437.1,142.4 437.1,141.4 437.2,144.6 437.3,148.5 437.3,132.5 437.4,135.2 437.4,142.5 437.5,131.2 437.5,140.2 437.6,130.9 437.6,136.8 437.7,145.1 437.8,148.4 437.8,142.1 437.9,145 437.9,143.6 438,137.9 438,147.5 438.1,134 438.2,139.1 438.2,145 438.3,143.9 438.3,146.8 438.4,141.6 438.4,145.9 438.5,134.6 438.5,146.8 438.6,133.7 438.7,132.2 438.7,129.3 438.8,141.2 438.8,143.2 438.9,138.7 438.9,133.8 439,147.6 439.1,134.6 439.1,145.5 439.2,140.3 439.2,140.7 439.3,140.2 439.3,146.7 439.4,138.9 439.4,127.6 439.5,139.4 439.6,148.1 439.6,133.2 439.7,146.9 439.7,144.6 439.8,138.4 439.8,145.9 439.9,146.3 440,140.2 440,142.9 440.1,145.6 440.1,138.5 440.2,130.8 440.2,126.1 440.3,147.7 440.3,145 440.4,148.3 440.5,130.3 440.5,135.5 440.6,143 440.6,132.9 440.7,141.6 440.7,143.4 440.8,145.4 440.8,134.6 440.9,139.8 441,141.7 441,136.6 441.1,134.5 441.1,134.5 441.2,139.2 441.2,147.8 441.3,144.2 441.4,136.8 441.4,127.1 441.5,136 441.5,137.3 441.6,137 441.6,131.8 441.7,115 441.7,137.7 441.8,139 441.9,141 441.9,143.2 442,132.8 442,131 442.1,134.6 442.1,146.6 442.2,139 442.3,144 442.3,143.7 442.4,134 442.4,148.5 442.5,142.5 442.5,140.8 442.6,142.5 442.6,142.2 442.7,131.7 442.8,136.7 442.8,141.4 442.9,147.2 442.9,139.5 443,145.3 443,137.8 443.1,110 443.1,142 443.2,144.1 443.3,143.9 443.3,135.8 443.4,149.9 443.4,140.7 443.5,135 443.5,142.3 443.6,144.2 443.7,140.4 443.7,141.6 443.8,143.7 443.8,144.4 443.9,132.2 443.9,145.9 444,130.5 444,147.3 444.1,147.5 444.2,142.2 444.2,143.2 444.3,143.2 444.3,149.5 444.4,138.9 444.4,148.6 444.5,96.2 444.6,146.6 444.6,146.5 444.7,146.3 444.7,144.6 444.8,148.4 444.8,143.2 444.9,142.5 444.9,133.6 445,145.6 445.1,131 445.1,144.3 445.2,138.7 445.2,146.1 445.3,140.3 445.3,131.6 445.4,144.5 445.5,131.7 445.5,143.6 445.6,140 445.6,141.8 445.7,127.5 445.7,145.2 445.8,147.3 445.8,123.2 445.9,111.2 446,138.5 446,126.7 446.1,139.6 446.1,142.3 446.2,141 446.2,145.1 446.3,144.1 446.3,140.4 446.4,138.2 446.5,147.1 446.5,141.4 446.6,132.1 446.6,139.8 446.7,136.3 446.7,144.5 446.8,137.2 446.9,143.5 446.9,144.5 447,137 447,147.1 447.1,131.6 447.1,136.3 447.2,128.4 447.2,137.2 447.3,116.2 447.4,147.7 447.4,142.1 447.5,131.3 447.5,144.4 447.6,130.1 447.6,136.1 447.7,146.2 447.8,146.9 447.8,125.8 447.9,146.4 447.9,146.2 448,140.2 448,138.2 448.1,148.1 448.1,138.8 448.2,148.2 448.3,147.2 448.3,147.6 448.4,138.8 448.4,141.9 448.5,136.9 448.5,146.6 448.6,148.1 448.7,147 448.7,147.5 448.8,149 448.8,147.4 448.9,142.7 448.9,142.9 449,145.8 449,129.7 449.1,146.5 449.2,133.2 449.2,145.4 449.3,144 449.3,143.6 449.4,146.5 449.4,142 449.5,146.7 449.5,136.4 449.6,142.3 449.7,140.8 449.7,134.1 449.8,148.3 449.8,146.4 449.9,147.8 449.9,129.1 450,149.3 450.1,146.3 450.1,142.7 450.2,136.7 450.2,146.5 450.3,141.6 450.3,141.3 450.4,144.5 450.4,145.1 450.5,147 450.6,132.5 450.6,146.2 450.7,146.2 450.7,131 450.8,146.5 450.8,146.7 450.9,145.9 451,145.4 451,129.5 451.1,146 451.1,131.3 451.2,137.3 451.2,131.6 451.3,145.7 451.3,149.6 451.4,140.1 451.5,144.5 451.5,120 451.6,145.8 451.6,142.2 451.7,146.9 451.7,144.3 451.8,138.2 451.9,148.5 451.9,142.2 452,139.1 452,148.9 452.1,147.4 452.1,130.2 452.2,139.1 452.2,148.7 452.3,146.5 452.4,148 452.4,142.2 452.5,145.5 452.5,147.2 452.6,148.3 452.6,139.7 452.7,142.2 452.7,146.7 452.8,142.7 452.9,144.8 452.9,134 453,135.3 453,137.9 453.1,148.4 453.1,142 453.2,147.3 453.3,145.2 453.3,144 453.4,144.9 453.4,138.3 453.5,129.4 453.5,145.9 453.6,149.9 453.6,145.4 453.7,139.8 453.8,143.1 453.8,138.3 453.9,149.8 453.9,146.1 454,144 454,129.2 454.1,146 454.2,140.7 454.2,145.4 454.3,146.1 454.3,140.9 454.4,143.6 454.4,145.9 454.5,144.9 454.5,145.3 454.6,137.7 454.7,140.1 454.7,141.1 454.8,148.7 454.8,144.1 454.9,136.4 454.9,144.4 455,146.6 455.1,129.1 455.1,145.5 455.2,144.6 455.2,144.6 455.3,146 455.3,144 455.4,145.6 455.4,144.9 455.5,143.1 455.6,147.4 455.6,145.9 455.7,146.7 455.7,142.1 455.8,146.1 455.8,139.1 455.9,145.6 455.9,127.8 456,142.2 456.1,130.4 456.1,142 456.2,142.3 456.2,143.7 456.3,138 456.3,145.2 456.4,133.4 456.5,146.7 456.5,147.5 456.6,141 456.6,143.4 456.7,142.9 456.7,145.9 456.8,143.2 456.8,140.5 456.9,142.3 457,136 457,134.8 457.1,144.7 457.1,143.9 457.2,145.6 457.2,145.1 457.3,148.2 457.4,146.9 457.4,140.9 457.5,146.3 457.5,135.5 457.6,141.6 457.6,139.6 457.7,145.1 457.7,146.8 457.8,142 457.9,118.8 457.9,140.4 458,132.8 458,140.2 458.1,143.4 458.1,147.5 458.2,147.7 458.2,148.3 458.3,137.7 458.4,142.7 458.4,146.8 458.5,148.9 458.5,138.9 458.6,139.1 458.6,128.1 458.7,138.7 458.8,147 458.8,146.3 458.9,138.3 458.9,148 459,147.3 459,133.3 459.1,140.5 459.1,143 459.2,136.3 459.3,145.7 459.3,143.2 459.4,138.1 459.4,149.6 459.5,140 459.5,144.4 459.6,100 459.7,146.9 459.7,149 459.8,145.3 459.8,137.4 459.9,144.7 459.9,148 460,143.1 460,147.4 460.1,141 460.2,147.9 460.2,135.9 460.3,136.4 460.3,146.1 460.4,139.3 460.4,149.7 460.5,148.6 460.6,131.3 460.6,144.6 460.7,140.7 460.7,149.1 460.8,147.8 460.8,132.4 460.9,145.1 460.9,122 461,132.9 461.1,138 461.1,124 461.2,140.1 461.2,133.5 461.3,148 461.3,144.9 461.4,144.2 461.4,134.3 461.5,148.3 461.6,143.5 461.6,149.9 461.7,143.5 461.7,144.5 461.8,144.1 461.8,148.4 461.9,126.9 462,145.4 462,138 462.1,146.8 462.1,142.2 462.2,137.9 462.2,145.5 462.3,147.9 462.3,144.4 462.4,145.8 462.5,127 462.5,147 462.6,149 462.6,141.2 462.7,138.2 462.7,147 462.8,142.2 462.9,148.3 462.9,149.1 463,140.5 463,137.2 463.1,143.7 463.1,142.1 463.2,138.7 463.2,140.6 463.3,140.4 463.4,145.9 463.4,139.7 463.5,123.5 463.5,135 463.6,146.2 463.6,142.1 463.7,146.3 463.8,139.7 463.8,126 463.9,146.8 463.9,136.8 464,143.3 464,144.2 464.1,143.1 464.1,145.8 464.2,124.5 464.3,146.7 464.3,134.9 464.4,146.1 464.4,148.4 464.5,146 464.5,128.6 464.6,144.8 464.6,143.9 464.7,142.9 464.8,141 464.8,140.4 464.9,143.2 464.9,136.1 465,144.4 465,143.5 465.1,141.6 465.2,139.4 465.2,144 465.3,145.9 465.3,139.4 465.4,138.3 465.4,130.2 465.5,148.5 465.5,118.8 465.6,139.2 465.7,148.5 465.7,141.9 465.8,144.5 465.8,147.3 465.9,138.5 465.9,141.1 466,141.4 466.1,138.9 466.1,144.7 466.2,140.9 466.2,148.1 466.3,137.2 466.3,149.4 466.4,145 466.4,145.1 466.5,148.8 466.6,148 466.6,146.8 466.7,146.6 466.7,131.6 466.8,145.7 466.8,147.6 466.9,137.2 467,141.9 467,145.1 467.1,136.6 467.1,146.7 467.2,140.4 467.2,141.1 467.3,134.5 467.3,136.1 467.4,127.5 467.5,147.2 467.5,147.2 467.6,145.6 467.6,145 467.7,134.1 467.7,144.5 467.8,142.2 467.8,139.2 467.9,141.6 468,144.6 468,138 468.1,147.4 468.1,141.7 468.2,142.7 468.2,147.7 468.3,145.8 468.4,131.1 468.4,127.6 468.5,134.5 468.5,127.5 468.6,145.4 468.6,139.7 468.7,140.7 468.7,143.4 468.8,124.6 468.9,144.6 468.9,134.8 469,146.2 469,138 469.1,139.6 469.1,141.8 469.2,138.4 469.3,143.5 469.3,143.1 469.4,135.2 469.4,134.6 469.5,146.1 469.5,145.3 469.6,137 469.6,143.7 469.7,141.2 469.8,130.6 469.8,141.2 469.9,148.1 469.9,141.4 470,140.5 470,138.2 470.1,145.3 470.1,136.1 470.2,147.7 470.3,145.4 470.3,144 470.4,130.2 470.4,146.4 470.5,143.4 470.5,140.3 470.6,145.8 470.7,141.5 470.7,125.8 470.8,137.4 470.8,115 470.9,143.1 470.9,138.2 471,146.7 471,147.5 471.1,136.2 471.2,123.5 471.2,136.7 471.3,143.7 471.3,144.6 471.4,145 471.4,137.8 471.5,133.5 471.6,139 471.6,145.4 471.7,144.9 471.7,138.6 471.8,135.7 471.8,144.2 471.9,138.8 471.9,148.3 472,149.4 472.1,142.9 472.1,147.6 472.2,145.7 472.2,147.3 472.3,146.6 472.3,145.4 472.4,137.9 472.5,139.9 472.5,139.7 472.6,130 472.6,141.3 472.7,141.9 472.7,136.6 472.8,136.8 472.8,143.8 472.9,134.5 473,145.3 473,144.5 473.1,134.2 473.1,148.5 473.2,146.9 473.2,141.3 473.3,113.8 473.3,137.3 473.4,145.8 473.5,144.9 473.5,143.1 473.6,150 473.6,131.2 473.7,138.9 473.7,139.4 473.8,142.4 473.9,147.4 473.9,138.3 474,144.3 474,143 474.1,147.4 474.1,139.8 474.2,147.5 474.2,141.1 474.3,143.2 474.4,143.6 474.4,139.1 474.5,140.3 474.5,140.8 474.6,130 474.6,139.5 474.7,143.7 474.8,148.2 474.8,135.2 474.9,148.9 474.9,133.3 475,137.6 475,141 475.1,138.4 475.1,146.2 475.2,130.8 475.3,146.5 475.3,145.6 475.4,133.8 475.4,144.7 475.5,137.6 475.5,136.2 475.6,137.8 475.7,135.8 475.7,134 475.8,146.8 475.8,142.4 475.9,143.6 475.9,139 476,141 476,141.3 476.1,146.8 476.2,145.4 476.2,146.7 476.3,140.2 476.3,147.1 476.4,148.3 476.4,144.3 476.5,137.5 476.5,128.6 476.6,139.4 476.7,142.9 476.7,145.9 476.8,137.1 476.8,145 476.9,135.6 476.9,140.3 477,143.7 477.1,139.5 477.1,146.1 477.2,134 477.2,139.5 477.3,143.9 477.3,144.1 477.4,133.9 477.4,143.8 477.5,143.9 477.6,143 477.6,146.9 477.7,139.4 477.7,146.8 477.8,135.8 477.8,142.8 477.9,138.7 478,134.4 478,140.9 478.1,146.4 478.1,142.5 478.2,130.3 478.2,146.5 478.3,130.7 478.3,141.3 478.4,141.9 478.5,135.6 478.5,142.4 478.6,145.1 478.6,140.6 478.7,139.1 478.7,145.2 478.8,142.7 478.9,145.8 478.9,118.8 479,128.2 479,139.7 479.1,131.3 479.1,144.1 479.2,132.9 479.2,139.7 479.3,135.1 479.4,147.1 479.4,142.2 479.5,135.6 479.5,126.8 479.6,146.5 479.6,142.4 479.7,138.3 479.7,146.5 479.8,138.5 479.9,145.3 479.9,135.7 480,143.4 480,128.6 480.1,143.6 480.1,146.7 480.2,146.6 480.3,149.1 480.3,107.5 480.4,135.3 480.4,140.2 480.5,139.3 480.5,139.1 480.6,140.3 480.6,138.7 480.7,147.5 480.8,145.8 480.8,136.3 480.9,149.3 480.9,146.7 481,136.6 481,144.6 481.1,143.8 481.2,146.8 481.2,148 481.3,146.7 481.3,147.8 481.4,139 481.4,141.3 481.5,144.5 481.5,141.8 481.6,139.8 481.7,138.2 481.7,146.8 481.8,143.7 481.8,143.8 481.9,143 481.9,141.3 482,148.6 482.1,142.7 482.1,146.5 482.2,145.4 482.2,140.8 482.3,128.3 482.3,134.6 482.4,148.5 482.4,146.4 482.5,140.6 482.6,131.9 482.6,132.5 482.7,143.6 482.7,147.7 482.8,141.9 482.8,146.1 482.9,136.1 482.9,145.3 483,144.6 483.1,148.8 483.1,135.9 483.2,139.5 483.2,139.8 483.3,143.1 483.3,146.8 483.4,137.8 483.5,147.4 483.5,145.7 483.6,136.1 483.6,138.7 483.7,141.7 483.7,145.8 483.8,136 483.8,145.9 483.9,138.1 484,140.2 484,146.7 484.1,145.1 484.1,141.6 484.2,147.5 484.2,151 484.3,145.7 484.4,145.4 484.4,135.8 484.5,145.9 484.5,144 484.6,137.6 484.6,143.3 484.7,147 484.7,147.6 484.8,145.9 484.9,120 484.9,147.3 485,144.1 485,145.4 485.1,146.7 485.1,137.3 485.2,148.4 485.2,123.7 485.3,132 485.4,141.7 485.4,143.9 485.5,146.2 485.5,146.8 485.6,140.1 485.6,146.5 485.7,142.7 485.8,141.7 485.8,133.7 485.9,148.5 485.9,137.9 486,138.1 486,122.6 486.1,143.2 486.1,142.5 486.2,146.8 486.3,147.3 486.3,136.8 486.4,133.6 486.4,144 486.5,146.3 486.5,145.2 486.6,144 486.7,140 486.7,146.1 486.8,138.6 486.8,145.3 486.9,145.9 486.9,134.1 487,146.6 487,137.6 487.1,146.8 487.2,138.6 487.2,135.7 487.3,133.9 487.3,144 487.4,142.5 487.4,134.3 487.5,142.3 487.6,134.5 487.6,139 487.7,141 487.7,144.1 487.8,134.2 487.8,146.1 487.9,146.9 487.9,144.3 488,143.3 488.1,147.7 488.1,148.1 488.2,148.3 488.2,136.6 488.3,142.3 488.3,144 488.4,128.8 488.4,142.8 488.5,148.8 488.6,144 488.6,135.5 488.7,144.1 488.7,137.8 488.8,145.9 488.8,147.8 488.9,147.2 489,147.2 489,141.2 489.1,149.2 489.1,148.9 489.2,146.5 489.2,140.7 489.3,140 489.3,138 489.4,144.2 489.5,148.3 489.5,143.7 489.6,148.6 489.6,142.4 489.7,142.5 489.7,147.6 489.8,138.3 489.9,147.3 489.9,134.6 490,148.4 490,130.4 490.1,143.7 490.1,144.6 490.2,148.9 490.2,136.8 490.3,149.1 490.4,146.1 490.4,140.9 490.5,135 490.5,134.3 490.6,149.3 490.6,138.5 490.7,130 490.8,149.9 490.8,117.5 490.9,144.3 490.9,147.3 491,145.5 491,141.5 491.1,144.4 491.1,128.8 491.2,141.6 491.3,136 491.3,148.9 491.4,140.8 491.4,126.3 491.5,133.5 491.5,147.2 491.6,144.7 491.6,146 491.7,147.5 491.8,130.4 491.8,135.1 491.9,132.2 491.9,145.5 492,146.5 492,138.3 492.1,128.5 492.2,140.2 492.2,142.1 492.3,147.6 492.3,141.3 492.4,141.1 492.4,138.5 492.5,149.2 492.5,147.7 492.6,144.3 492.7,121.8 492.7,128.3 492.8,143.9 492.8,134.8 492.9,139.7 492.9,143.1 493,139 493.1,141.9 493.1,142.8 493.2,135.3 493.2,146.3 493.3,148.2 493.3,141.7 493.4,140.5 493.4,145.8 493.5,146.7 493.6,139.3 493.6,130.2 493.7,145.3 493.7,144.2 493.8,143.9 493.8,144.5 493.9,147.1 494,143.2 494,106.2 494.1,132 494.1,140.9 494.2,145.3 494.2,145.5 494.3,131.8 494.3,127.7 494.4,147.1 494.5,140.6 494.5,147.4 494.6,139.3 494.6,145.7 494.7,135.4 494.7,138.9 494.8,134.6 494.8,134.5 494.9,131.5 495,138.5 495,144.7 495.1,149.3 495.1,143.9 495.2,141.7 495.2,146.7 495.3,143.4 495.4,145 495.4,115 495.5,148.9 495.5,149 495.6,148.1 495.6,144.4 495.7,140.1 495.7,139.1 495.8,147 495.9,145.8 495.9,140.3 496,149.4 496,132.7 496.1,144.4 496.1,143.8 496.2,142.9 496.3,148.2 496.3,145.8 496.4,144.4 496.4,141.8 496.5,149.6 496.5,150.6 496.6,144.8 496.6,135.3 496.7,149.2 496.8,137.2 496.8,148.2 496.9,141.3 496.9,138 497,142.9 497,146 497.1,147.9 497.2,134.6 497.2,138 497.3,147.3 497.3,145.9 497.4,133.8 497.4,140 497.5,147.7 497.5,142.2 497.6,147 497.7,133.8 497.7,143.3 497.8,140.8 497.8,144.9 497.9,142 497.9,140.1 498,124.5 498,145 498.1,134.9 498.2,139.6 498.2,147.7 498.3,134.4 498.3,147.9 498.4,136.3 498.4,140.8 498.5,143.6 498.6,139.2 498.6,143.5 498.7,143.5 498.7,141.8 498.8,145.7 498.8,140.9 498.9,140.4 498.9,123.8 499,149 499.1,147.6 499.1,147.1 499.2,149.9 499.2,147.6 499.3,137.4 499.3,143.4 499.4,146.2 499.5,136.5 499.5,145 499.6,139.4 499.6,133.1 499.7,135.5 499.7,149 499.8,138.9 499.8,148.2 499.9,143.1 500,117.5 500,144.7 500.1,140.8 500.1,148.3 500.2,139 500.2,130.8 500.3,131.7 500.3,139.9 500.4,131.3 500.5,146.8 500.5,142.9 500.6,135.6 500.6,134.1 500.7,144.6 500.7,143.5 500.8,148.4 500.9,143.4 500.9,149.3 501,144.6 501,146.5 501.1,140.1 501.1,147 501.2,137.8 501.2,131 501.3,137.4 501.4,134 501.4,137.7 501.5,135.1 501.5,145.7 501.6,146 501.6,130 501.7,147.9 501.8,141.7 501.8,138 501.9,146.8 501.9,130.7 502,143.5 502,141.1 502.1,135.7 502.1,139.4 502.2,140 502.3,145.8 502.3,140.5 502.4,143.5 502.4,146.8 502.5,146.1 502.5,140.6 502.6,139.9 502.7,147.4 502.7,134.5 502.8,141.2 502.8,128.1 502.9,143.7 502.9,144.9 503,143.8 503,145.7 503.1,148.9 503.2,135.8 503.2,146.5 503.3,147.9 503.3,145 503.4,128.7 503.4,143.9 503.5,133.1 503.5,145.1 503.6,137.4 503.7,144.9 503.7,142.3 503.8,148.6 503.8,142.8 503.9,145.8 503.9,146.4 504,140.4 504.1,142.9 504.1,144.7 504.2,120 504.2,147.1 504.3,129.8 504.3,140.6 504.4,145.9 504.4,134.5 504.5,140.7 504.6,145 504.6,148.1 504.7,146.2 504.7,145.4 504.8,144.5 504.8,128.8 504.9,130.8 505,145.3 505,144.1 505.1,130 505.1,140.2 505.2,147.9 505.2,148.5 505.3,139.5 505.3,143.9 505.4,148.4 505.5,139.3 505.5,143.5 505.6,142.9 505.6,145 505.7,148.8 505.7,148.8 505.8,146.1 505.9,149 505.9,143.4 506,148.3 506,140 506.1,145.1 506.1,141.5 506.2,137.9 506.2,149.1 506.3,130.4 506.4,133.6 506.4,139.9 506.5,148.4 506.5,124 506.6,135 506.6,141.1 506.7,143.8 506.7,147.1 506.8,144 506.9,148.7 506.9,140.4 507,145.5 507,144.6 507.1,142.8 507.1,140.6 507.2,138.4 507.3,144.4 507.3,141.7 507.4,145.1 507.4,148 507.5,142.1 507.5,148.4 507.6,138.1 507.6,122.5 507.7,146.2 507.8,140 507.8,145.2 507.9,139.4 507.9,146.4 508,144 508,128 508.1,146.3 508.2,148 508.2,144.3 508.3,145.1 508.3,145.8 508.4,143.6 508.4,147.3 508.5,141.6 508.5,131.3 508.6,142.4 508.7,145.5 508.7,146.8 508.8,145.1 508.8,137.4 508.9,145.3 508.9,142.5 509,139.9 509.1,141.2 509.1,137.3 509.2,140.6 509.2,148.5 509.3,133.2 509.3,139.7 509.4,142.9 509.4,147.5 509.5,147.3 509.6,144.7 509.6,144.9 509.7,139.2 509.7,142.3 509.8,149.2 509.8,137.9 509.9,142.9 509.9,135.9 510,140.9 510.1,147.2 510.1,144.3 510.2,130.7 510.2,137.3 510.3,135.3 510.3,143.2 510.4,136.8 510.5,143.1 510.5,143.9 510.6,141.8 510.6,148.4 510.7,143.3 510.7,146.2 510.8,144.1 510.8,135.3 510.9,147.1 511,143.6 511,132.4 511.1,116.2 511.1,146.6 511.2,117.5 511.2,141.8 511.3,142.5 511.4,127.9 511.4,146.2 511.5,128.8 511.5,136.6 511.6,142 511.6,145.8 511.7,138.2 511.7,138.1 511.8,139.5 511.9,133.4 511.9,139.9 512,141.7 512,136.7 512.1,141.3 512.1,140.5 512.2,142.1 512.2,134.6 512.3,142 512.4,142 512.4,144.9 512.5,140.8 512.5,148.3 512.6,135 512.6,142.5 512.7,132.3 512.8,141 512.8,137.6 512.9,135.3 512.9,144.7 513,142.6 513,145.5 513.1,144 513.1,129.1 513.2,142.1 513.3,143.7 513.3,133.4 513.4,149 513.4,149.3 513.5,147.4 513.5,148.2 513.6,141.7 513.7,135.3 513.7,143 513.8,143.6 513.8,147.2 513.9,147.6 513.9,144.1 514,135.7 514,140.5 514.1,131.6 514.2,144.5 514.2,139 514.3,130.7 514.3,134.4 514.4,141.5 514.4,145.2 514.5,147.3 514.6,145.2 514.6,146.5 514.7,115 514.7,133.6 514.8,143.6 514.8,136.6 514.9,141.7 514.9,141.8 515,135.5 515.1,140.3 515.1,139.5 515.2,147.8 515.2,147.9 515.3,147.7 515.3,140.3 515.4,139.1 515.4,148.1 515.5,148.4 515.6,136.7 515.6,147 515.7,149.3 515.7,132.1 515.8,142.9 515.8,146.1 515.9,144.7 516,142.7 516,145.3 516.1,136 516.1,147.9 516.2,146.3 516.2,149.1 516.3,140 516.3,145.6 516.4,132.8 516.5,132.6 516.5,144.2 516.6,135.6 516.6,148.6 516.7,138 516.7,126.1 516.8,145.9 516.9,143.9 516.9,149.3 517,136.7 517,143.7 517.1,145.9 517.1,147.6 517.2,143.1 517.2,148 517.3,142.5 517.4,147.9 517.4,137.8 517.5,145.6 517.5,142.5 517.6,148.2 517.6,131.5 517.7,125.7 517.8,148 517.8,146 517.9,137.9 517.9,147.7 518,149.3 518,144.7 518.1,141.8 518.1,133.9 518.2,140.4 518.3,144.9 518.3,141.2 518.4,146.9 518.4,139.1 518.5,143.5 518.5,143.2 518.6,145.9 518.6,144.5 518.7,148.1 518.8,145.8 518.8,143.4 518.9,129.9 518.9,144.3 519,143.5 519,144.8 519.1,143.8 519.2,144.4 519.2,138.1 519.3,101.2 519.3,141.2 519.4,143.6 519.4,146.4 519.5,141.1 519.5,144.6 519.6,143.6 519.7,142.6 519.7,146.7 519.8,145 519.8,139 519.9,137.9 519.9,136 520,145.3 520.1,145.5 520.1,145.1 520.2,143.1 520.2,141.3 520.3,150.1 520.3,144.1 520.4,142.3 520.4,145.2 520.5,140.8 520.6,131.8 520.6,137.9 520.7,141.1 520.7,144.8 520.8,143.1 520.8,144.6 520.9,143.5 521,140.6 521,147.1 521.1,140.3 521.1,146.9 521.2,140.3 521.2,144.6 521.3,133.9 521.3,135 521.4,144.6 521.5,144.3 521.5,129 521.6,141.9 521.6,142.2 521.7,143.7 521.7,143.7 521.8,127 521.8,140 521.9,135.4 522,148.2 522,148.4 522.1,146.2 522.1,147.8 522.2,146.3 522.2,138.9 522.3,142.6 522.4,133.1 522.4,140.6 522.5,135.9 522.5,142.4 522.6,129.6 522.6,145.3 522.7,135 522.7,130.5 522.8,139.3 522.9,148 522.9,140 523,149.1 523,145.9 523.1,142.8 523.1,137.9 523.2,130.3 523.3,141 523.3,148.1 523.4,140.2 523.4,130.9 523.5,141.7 523.5,143.5 523.6,147.4 523.6,147.6 523.7,143.2 523.8,139.5 523.8,116.2 523.9,142.5 523.9,141.7 524,145.4 524,137.7 524.1,146.4 524.2,146.7 524.2,148.7 524.3,139 524.3,137.7 524.4,142.5 524.4,138.3 524.5,139.6 524.5,124.4 524.6,127.2 524.7,143.2 524.7,137.2 524.8,149.3 524.8,139.1 524.9,146.5 524.9,135.8 525,138.4 525,139.1 525.1,139.3 525.2,140.7 525.2,145.7 525.3,144.5 525.3,142.7 525.4,144.4 525.4,142.5 525.5,146.4 525.6,141.8 525.6,130.6 525.7,138 525.7,142.7 525.8,144.2 525.8,140.8 525.9,118.8 525.9,145.1 526,143.1 526.1,143 526.1,128.8 526.2,142.3 526.2,140.6 526.3,148.7 526.3,149 526.4,149.5 526.5,134.7 526.5,146.5 526.6,142.1 526.6,146.2 526.7,149.8 526.7,145.7 526.8,147.3 526.8,145.9 526.9,149 527,149.3 527,135.1 527.1,138.6 527.1,131.9 527.2,144.1 527.2,130.6 527.3,117.5 527.3,147.3 527.4,146 527.5,145.4 527.5,150.1 527.6,134.7 527.6,135.9 527.7,141.4 527.7,143.2 527.8,137.2 527.9,139.4 527.9,136.1 528,149.1 528,141.7 528.1,130.9 528.1,146 528.2,144.4 528.2,130.7 528.3,133.7 528.4,142.7 528.4,142.1 528.5,146 528.5,144.5 528.6,141 528.6,141.2 528.7,137.3 528.8,138.4 528.8,133.6 528.9,142.4 528.9,135.3 529,142.1 529,140.3 529.1,122.5 529.1,144.1 529.2,131.5 529.3,138.7 529.3,141.8 529.4,136.5 529.4,138.7 529.5,140.7 529.5,135.8 529.6,124.8 529.7,134.7 529.7,139.6 529.8,145.3" fill="none" stroke="#000" stroke-width="0.55" stroke-linejoin="bevel"/>
<rect x="358.2" y="133.1" width="171.6" height="15.6" fill="#000" opacity="0.9"/>
<rect x="329.1" y="62.5" width="22.5" height="22.5" fill="#000" opacity="0.45"/>
<rect x="325.5" y="22.8" width="214" height="149.6" fill="none" stroke="#606060" stroke-width="1"/>
<line x1="323" x2="325.5" y1="160.1" y2="160.1" stroke="#666" stroke-width="1"/>
<text x="318.3" y="163.3" text-anchor="end" font-size="9.3" fill="#222">2</text>
<line x1="323" x2="325.5" y1="135.1" y2="135.1" stroke="#666" stroke-width="1"/>
<text x="318.3" y="138.3" text-anchor="end" font-size="9.3" fill="#222">4</text>
<line x1="323" x2="325.5" y1="110.1" y2="110.1" stroke="#666" stroke-width="1"/>
<text x="318.3" y="113.3" text-anchor="end" font-size="9.3" fill="#222">6</text>
<line x1="323" x2="325.5" y1="85.1" y2="85.1" stroke="#666" stroke-width="1"/>
<text x="318.3" y="88.3" text-anchor="end" font-size="9.3" fill="#222">8</text>
<line x1="323" x2="325.5" y1="60.1" y2="60.1" stroke="#666" stroke-width="1"/>
<text x="318.3" y="63.3" text-anchor="end" font-size="9.3" fill="#222">10</text>
<line x1="323" x2="325.5" y1="35.1" y2="35.1" stroke="#666" stroke-width="1"/>
<text x="318.3" y="38.3" text-anchor="end" font-size="9.3" fill="#222">12</text>
<line x1="329" x2="329" y1="172.4" y2="175" stroke="#666" stroke-width="1"/>
<text x="328.8" y="187.5" text-anchor="middle" font-size="9.3" fill="#222">0</text>
<line x1="364.1" x2="364.1" y1="172.4" y2="175" stroke="#666" stroke-width="1"/>
<text x="363.8" y="187.5" text-anchor="middle" font-size="9.3" fill="#222">100</text>
<line x1="399.2" x2="399.2" y1="172.4" y2="175" stroke="#666" stroke-width="1"/>
<text x="398.9" y="187.5" text-anchor="middle" font-size="9.3" fill="#222">200</text>
<line x1="434.2" x2="434.2" y1="172.4" y2="175" stroke="#666" stroke-width="1"/>
<text x="434" y="187.5" text-anchor="middle" font-size="9.3" fill="#222">300</text>
<line x1="469.3" x2="469.3" y1="172.4" y2="175" stroke="#666" stroke-width="1"/>
<text x="469.1" y="187.5" text-anchor="middle" font-size="9.3" fill="#222">400</text>
<line x1="504.4" x2="504.4" y1="172.4" y2="175" stroke="#666" stroke-width="1"/>
<text x="504.2" y="187.5" text-anchor="middle" font-size="9.3" fill="#222">500</text>
<line x1="539.5" x2="539.5" y1="172.4" y2="175" stroke="#666" stroke-width="1"/>
<text x="539.2" y="187.5" text-anchor="middle" font-size="9.3" fill="#222">600</text>
<text x="432.5" y="205" text-anchor="middle" font-size="10.7" fill="#222">Time (ns)</text>
<text transform="translate(301.8,98) rotate(-90)" text-anchor="middle" font-size="10.7" fill="#222">rmsd (A)</text>
<text x="512.6" y="41.1" font-size="13.8" fill="#111">(b)</text>
</g>
<g id="pc">
<path d="M52,310 56,345 60,372.5 63,386 65,392.5 66.5,394 70,394 72.5,391.5 75,387.5 78,380 82.5,367.5 87,359 92.5,350 97.5,341 101,337 105,334 110,333.5 113.5,328.5 117.5,322.5 121,316.5 125,310 129,305 132.5,303.5 134.5,304 136,306 138.5,312 141,318.5 143,317.5 145,316.5 147.5,323 150,330 155,342.5 157,346 159,348 164,347.5 167.5,345.5 170,347 172.5,349 176,349 178.5,352 181,355 183.5,357 186,358 190,358 194,356 196,353 198,350 202.5,347.5 205,345 207.5,341 210,336 212.5,330 220,307.5 227.5,290 233,277.5 234.2,272 235,267.5 237,261" fill="none" stroke="#333" stroke-width="0.9" stroke-linejoin="round"/>
<rect x="36.9" y="255.5" width="220.8" height="154.6" fill="none" stroke="#505050" stroke-width="1.1"/>
<line x1="35" x2="37" y1="261.5" y2="261.5" stroke="#555" stroke-width="1"/>
<text x="31.5" y="263.6" text-anchor="end" font-size="5.8" fill="#333">0</text>
<line x1="35" x2="37" y1="282.7" y2="282.7" stroke="#555" stroke-width="1"/>
<text x="31.5" y="284.8" text-anchor="end" font-size="5.8" fill="#333">-1</text>
<line x1="35" x2="37" y1="303.9" y2="303.9" stroke="#555" stroke-width="1"/>
<text x="31.5" y="306" text-anchor="end" font-size="5.8" fill="#333">-2</text>
<line x1="35" x2="37" y1="325.1" y2="325.1" stroke="#555" stroke-width="1"/>
<text x="31.5" y="327.2" text-anchor="end" font-size="5.8" fill="#333">-3</text>
<line x1="35" x2="37" y1="346.3" y2="346.3" stroke="#555" stroke-width="1"/>
<text x="31.5" y="348.4" text-anchor="end" font-size="5.8" fill="#333">-4</text>
<line x1="35" x2="37" y1="367.5" y2="367.5" stroke="#555" stroke-width="1"/>
<text x="31.5" y="369.6" text-anchor="end" font-size="5.8" fill="#333">-5</text>
<line x1="35" x2="37" y1="388.7" y2="388.7" stroke="#555" stroke-width="1"/>
<text x="31.5" y="390.8" text-anchor="end" font-size="5.8" fill="#333">-6</text>
<line x1="35" x2="37" y1="409.9" y2="409.9" stroke="#555" stroke-width="1"/>
<text x="31.5" y="412" text-anchor="end" font-size="5.8" fill="#333">-7</text>
<line x1="37" x2="37" y1="410" y2="413" stroke="#555" stroke-width="1"/>
<text x="37" y="426" text-anchor="middle" font-size="9.3" fill="#222">2</text>
<line x1="81.2" x2="81.2" y1="410" y2="413" stroke="#555" stroke-width="1"/>
<text x="81.2" y="426" text-anchor="middle" font-size="9.3" fill="#222">4</text>
<line x1="125.4" x2="125.4" y1="410" y2="413" stroke="#555" stroke-width="1"/>
<text x="125.4" y="426" text-anchor="middle" font-size="9.3" fill="#222">6</text>
<line x1="169.6" x2="169.6" y1="410" y2="413" stroke="#555" stroke-width="1"/>
<text x="169.6" y="426" text-anchor="middle" font-size="9.3" fill="#222">8</text>
<line x1="213.8" x2="213.8" y1="410" y2="413" stroke="#555" stroke-width="1"/>
<text x="213.8" y="426" text-anchor="middle" font-size="9.3" fill="#222">10</text>
<line x1="258" x2="258" y1="410" y2="413" stroke="#555" stroke-width="1"/>
<text x="258" y="426" text-anchor="middle" font-size="9.3" fill="#222">12</text>
<text x="145.5" y="443.5" text-anchor="middle" font-size="10.2" fill="#222">rmsd (A)</text>
<text transform="translate(19.3,332.4) rotate(-90)" text-anchor="middle" font-size="10.8" fill="#222">μ (kcal/mol)</text>
<text x="240" y="270.1" font-size="13.8" fill="#111">(c)</text>
</g>
<g id="pd">
<defs><clipPath id="hclip"><rect x="322" y="232.5" width="184" height="183.2"/></clipPath>
<filter id="hmap" x="300" y="210" width="230" height="230" filterUnits="userSpaceOnUse" color-interpolation-filters="sRGB">
<feGaussianBlur stdDeviation="1.5 2.1"/>
<feComponentTransfer>
<feFuncR type="table" tableValues="1 1 1 1 1 0.745 0.502 0.251 0 0 0 0 0 0 0 0 0 0.0784 0.157 0.235 0.282"/>
<feFuncG type="table" tableValues="0 0.251 0.502 0.753 1 1 1 1 1 0.843 0.667 0.431 0 0 0 0 0 0.0392 0.098 0.137 0.165"/>
<feFuncB type="table" tableValues="0 0 0 0 0 0 0 0 0 0 0.0784 0.392 1 0.878 0.753 0.627 0.498 0.529 0.569 0.608 0.627"/>
</feComponentTransfer>
</filter></defs>
<g clip-path="url(#hclip)"><g filter="url(#hmap)">
<rect x="290" y="200" width="260" height="260" fill="#000"/>
<rect x="340.6" y="379" width="3.4" height="7.3" fill="rgb(22,22,22)"/>
<rect x="343.3" y="302.6" width="3.3" height="6.1" fill="rgb(19,19,19)"/>
<rect x="335.4" y="373.9" width="2.8" height="13.2" fill="rgb(23,23,23)"/>
<rect x="391.2" y="345.5" width="3" height="7.5" fill="rgb(28,28,28)"/>
<rect x="363.7" y="305.8" width="3.2" height="6.2" fill="rgb(18,18,18)"/>
<rect x="343.6" y="298.8" width="3.2" height="13.8" fill="rgb(19,19,19)"/>
<rect x="391.6" y="340.5" width="2.6" height="15.2" fill="rgb(27,27,27)"/>
<rect x="380.5" y="315.1" width="2.5" height="7.3" fill="rgb(16,16,16)"/>
<rect x="377.8" y="308.8" width="2.7" height="15.7" fill="rgb(24,24,24)"/>
<rect x="362.4" y="371.9" width="2.9" height="14.3" fill="rgb(23,23,23)"/>
<rect x="390" y="328.3" width="3" height="15" fill="rgb(28,28,28)"/>
<rect x="358.5" y="374.8" width="2.2" height="12.7" fill="rgb(27,27,27)"/>
<rect x="345.2" y="299.9" width="3.1" height="11.7" fill="rgb(18,18,18)"/>
<rect x="341.1" y="302.3" width="2.7" height="7.2" fill="rgb(24,24,24)"/>
<rect x="379.2" y="310.6" width="2.6" height="14" fill="rgb(18,18,18)"/>
<rect x="362.8" y="373.9" width="2.2" height="10.2" fill="rgb(24,24,24)"/>
<rect x="316.5" y="309.2" width="2.8" height="11.9" fill="rgb(28,28,28)"/>
<rect x="352.6" y="375" width="2.5" height="16" fill="rgb(17,17,17)"/>
<rect x="355.3" y="302.8" width="2.6" height="8" fill="rgb(24,24,24)"/>
<rect x="313.1" y="349.7" width="2.5" height="15.8" fill="rgb(21,21,21)"/>
<rect x="314.3" y="355.4" width="2.7" height="9.8" fill="rgb(23,23,23)"/>
<rect x="354.2" y="298.8" width="3.2" height="15.7" fill="rgb(19,19,19)"/>
<rect x="345.7" y="379.3" width="2.4" height="10.4" fill="rgb(20,20,20)"/>
<rect x="368.2" y="371" width="2.9" height="10.2" fill="rgb(16,16,16)"/>
<rect x="336.5" y="303.1" width="2.9" height="6.6" fill="rgb(22,22,22)"/>
<rect x="385.2" y="358.8" width="2.7" height="8.8" fill="rgb(24,24,24)"/>
<rect x="320.4" y="306.6" width="2.7" height="8.5" fill="rgb(24,24,24)"/>
<rect x="369.8" y="371.1" width="3.1" height="7.9" fill="rgb(27,27,27)"/>
<rect x="349.8" y="378.9" width="3.2" height="9.8" fill="rgb(16,16,16)"/>
<rect x="335.9" y="302.8" width="2.8" height="7.3" fill="rgb(25,25,25)"/>
<rect x="419.2" y="408.3" width="2.7" height="8.6" fill="rgb(25,25,25)"/>
<rect x="385.4" y="356.3" width="3" height="19.3" fill="rgb(19,19,19)"/>
<rect x="393" y="374.9" width="2.3" height="16.4" fill="rgb(23,23,23)"/>
<rect x="418.9" y="408.7" width="2.8" height="7.7" fill="rgb(18,18,18)"/>
<rect x="435.6" y="328.8" width="3.2" height="9.9" fill="rgb(24,24,24)"/>
<rect x="434.2" y="333.6" width="2.4" height="7.8" fill="rgb(26,26,26)"/>
<rect x="422.9" y="405.9" width="2.4" height="14.9" fill="rgb(23,23,23)"/>
<rect x="388.9" y="337.9" width="2" height="8.2" fill="rgb(29,29,29)"/>
<rect x="437.9" y="332.7" width="3.4" height="12.1" fill="rgb(28,28,28)"/>
<rect x="403.8" y="394.1" width="3.1" height="12.4" fill="rgb(26,26,26)"/>
<rect x="440.2" y="407.1" width="3.3" height="18.5" fill="rgb(27,27,27)"/>
<rect x="433.8" y="410.7" width="2.1" height="9.4" fill="rgb(27,27,27)"/>
<rect x="456" y="320.8" width="3.3" height="18.6" fill="rgb(24,24,24)"/>
<rect x="402.2" y="321.7" width="2.8" height="7.7" fill="rgb(19,19,19)"/>
<rect x="401.3" y="320.1" width="3.4" height="11.8" fill="rgb(24,24,24)"/>
<rect x="450.1" y="406.8" width="2.8" height="19.6" fill="rgb(27,27,27)"/>
<rect x="392.6" y="330.4" width="2.8" height="8.8" fill="rgb(27,27,27)"/>
<rect x="393.4" y="379.3" width="3.3" height="9.8" fill="rgb(17,17,17)"/>
<rect x="402.2" y="318.6" width="2.6" height="14" fill="rgb(26,26,26)"/>
<rect x="406.8" y="396.4" width="2.6" height="13.4" fill="rgb(22,22,22)"/>
<rect x="397.4" y="320.6" width="2.1" height="16.9" fill="rgb(16,16,16)"/>
<rect x="470.9" y="333.1" width="2.1" height="18" fill="rgb(22,22,22)"/>
<rect x="450.8" y="413" width="2.6" height="7" fill="rgb(21,21,21)"/>
<rect x="437.6" y="411.6" width="2.5" height="8.7" fill="rgb(17,17,17)"/>
<rect x="454.9" y="321.1" width="3.2" height="16.1" fill="rgb(23,23,23)"/>
<rect x="392.3" y="327.8" width="3.2" height="14.5" fill="rgb(21,21,21)"/>
<rect x="390.8" y="332.2" width="2.6" height="12" fill="rgb(22,22,22)"/>
<rect x="421.4" y="313.1" width="2.6" height="19.3" fill="rgb(16,16,16)"/>
<rect x="401.4" y="387.4" width="2.1" height="15.7" fill="rgb(21,21,21)"/>
<rect x="482.8" y="378.4" width="2.5" height="6.4" fill="rgb(29,29,29)"/>
<rect x="440.6" y="327.4" width="2.7" height="9.7" fill="rgb(17,17,17)"/>
<rect x="428.8" y="318.4" width="2.6" height="13.4" fill="rgb(17,17,17)"/>
<rect x="457.7" y="410.6" width="2.9" height="7.4" fill="rgb(16,16,16)"/>
<rect x="387.6" y="368.6" width="2.8" height="11.4" fill="rgb(23,23,23)"/>
<rect x="428.7" y="320.5" width="2" height="8.5" fill="rgb(27,27,27)"/>
<rect x="384.5" y="353.7" width="2.7" height="7.6" fill="rgb(25,25,25)"/>
<rect x="441.4" y="407.8" width="2.1" height="17.2" fill="rgb(26,26,26)"/>
<rect x="462.3" y="330.4" width="2.8" height="9.3" fill="rgb(17,17,17)"/>
<rect x="454" y="324.1" width="2.8" height="10.5" fill="rgb(27,27,27)"/>
<rect x="415.3" y="404.3" width="2.7" height="15" fill="rgb(25,25,25)"/>
<rect x="478" y="388.2" width="3.4" height="14.4" fill="rgb(23,23,23)"/>
<rect x="386.3" y="343.6" width="3.4" height="9.3" fill="rgb(27,27,27)"/>
<rect x="394.6" y="378.6" width="2.9" height="14" fill="rgb(28,28,28)"/>
<rect x="432.1" y="321.7" width="3.3" height="15" fill="rgb(18,18,18)"/>
<rect x="385.2" y="358.1" width="3" height="12.8" fill="rgb(29,29,29)"/>
<rect x="433.3" y="331.5" width="2.4" height="8.6" fill="rgb(18,18,18)"/>
<rect x="433.9" y="325.5" width="3.3" height="19.1" fill="rgb(23,23,23)"/>
<rect x="442.5" y="407.6" width="2.9" height="18" fill="rgb(24,24,24)"/>
<polygon points="333.9,309.3 322.6,313.1 314.7,322.8 312.5,335.3 312.7,348.1 318.3,360.2 326.8,369.8 335.6,377.3 347.9,382.4 358.6,378.9 368.3,373.9 378.7,367.7 388.4,357.8 391.3,343.9 387.6,331.3 379.7,320.1 369.6,312.5 356.5,309.2 345.7,308.1" fill="rgb(20,20,20)" />
<polygon points="410.8,324.1 398.8,332.2 392.2,344.1 388.8,357.3 390.4,370.9 396.1,380.7 401.9,388.3 407.5,398.3 418,409.1 433.3,412.2 449.3,414.3 465,409.5 475.6,397.8 481.2,383.4 480,367.3 475.3,355.3 469.3,343.5 455.8,332 439.5,335.8 433.9,339.8 437.8,341.1 436.3,336.1 427.1,326.1" fill="rgb(20,20,20)" />
<rect x="475.1" y="317.7" width="2.3" height="14.9" fill="rgb(22,22,22)"/>
<rect x="462.2" y="306.8" width="2.4" height="15.8" fill="rgb(22,22,22)"/>
<rect x="454.8" y="302.8" width="2.8" height="21.2" fill="rgb(15,15,15)"/>
<rect x="440.9" y="320.7" width="2.7" height="23.1" fill="rgb(18,18,18)"/>
<rect x="449.3" y="305.2" width="2.9" height="16.4" fill="rgb(24,24,24)"/>
<rect x="486.5" y="354.4" width="2.8" height="24.3" fill="rgb(22,22,22)"/>
<rect x="450.5" y="301.3" width="2.3" height="23.7" fill="rgb(15,15,15)"/>
<rect x="469.6" y="309.1" width="2.8" height="20" fill="rgb(13,13,13)"/>
<rect x="470.1" y="314" width="2.2" height="10.7" fill="rgb(14,14,14)"/>
<rect x="442.5" y="308.5" width="3.1" height="14.2" fill="rgb(13,13,13)"/>
<rect x="486.6" y="350.9" width="2" height="20.8" fill="rgb(17,17,17)"/>
<rect x="483.1" y="337.7" width="2.8" height="11.2" fill="rgb(21,21,21)"/>
<rect x="486.3" y="348.9" width="2.1" height="18.7" fill="rgb(16,16,16)"/>
<rect x="481.9" y="327.5" width="3.1" height="24.2" fill="rgb(14,14,14)"/>
<rect x="479.8" y="326.2" width="2.5" height="15.9" fill="rgb(20,20,20)"/>
<rect x="469.5" y="306.3" width="2.4" height="25.1" fill="rgb(19,19,19)"/>
<rect x="486.3" y="360.9" width="2.4" height="17.9" fill="rgb(21,21,21)"/>
<rect x="445.4" y="327.8" width="2.9" height="20.3" fill="rgb(15,15,15)"/>
<rect x="481.3" y="326.4" width="2.1" height="20.5" fill="rgb(24,24,24)"/>
<rect x="459.8" y="303.8" width="2.8" height="20.3" fill="rgb(18,18,18)"/>
<rect x="473.3" y="314.5" width="2.4" height="17.3" fill="rgb(15,15,15)"/>
<rect x="442.6" y="309.2" width="2.7" height="12.9" fill="rgb(19,19,19)"/>
<rect x="483.2" y="335.9" width="2.5" height="14.3" fill="rgb(23,23,23)"/>
<rect x="436.9" y="312" width="2.8" height="14.3" fill="rgb(19,19,19)"/>
<rect x="481.2" y="328.8" width="3" height="17.2" fill="rgb(14,14,14)"/>
<rect x="486.7" y="359.7" width="2.3" height="11.8" fill="rgb(14,14,14)"/>
<rect x="447" y="302" width="2.1" height="24.6" fill="rgb(21,21,21)"/>
<rect x="461.7" y="347.2" width="3" height="21.9" fill="rgb(21,21,21)"/>
<rect x="452.1" y="334.4" width="3" height="23.8" fill="rgb(19,19,19)"/>
<rect x="456.5" y="307" width="2.3" height="13.2" fill="rgb(22,22,22)"/>
<rect x="440.3" y="308.4" width="2.5" height="17.1" fill="rgb(22,22,22)"/>
<rect x="478.9" y="323" width="2.8" height="19.3" fill="rgb(24,24,24)"/>
<rect x="475.3" y="314.8" width="2" height="20.7" fill="rgb(15,15,15)"/>
<rect x="433.8" y="310.3" width="2.3" height="22.1" fill="rgb(15,15,15)"/>
<polygon points="428,333 434,322 443,316 452,313 462,314 470,318 477,326 483,338 487,352 488,368 484,384 476,396 466,380 458,350 444,340" fill="rgb(19,19,19)" />
<polygon points="432,338 440,328 450,323 461,323 470,328 477,338 481,352 481,368 476,384 466,372 456,348 444,342" fill="rgb(31,31,31)" />
<rect x="467.7" y="365" width="2.3" height="15.8" fill="rgb(39,39,39)"/>
<rect x="470.6" y="372.3" width="2.8" height="10.8" fill="rgb(26,26,26)"/>
<rect x="446.4" y="332.5" width="2.1" height="14.2" fill="rgb(30,30,30)"/>
<rect x="472.5" y="326.6" width="2" height="13" fill="rgb(29,29,29)"/>
<rect x="479.9" y="358.5" width="2.2" height="14.9" fill="rgb(40,40,40)"/>
<rect x="446" y="316.7" width="2.4" height="15.4" fill="rgb(39,39,39)"/>
<rect x="458" y="316.8" width="2.9" height="12.4" fill="rgb(32,32,32)"/>
<rect x="457.1" y="317" width="3" height="12.1" fill="rgb(37,37,37)"/>
<rect x="477.2" y="368.5" width="2.6" height="15" fill="rgb(31,31,31)"/>
<rect x="463.6" y="360.6" width="2.9" height="12.6" fill="rgb(31,31,31)"/>
<rect x="463.9" y="321.1" width="2.3" height="8.4" fill="rgb(40,40,40)"/>
<rect x="455.8" y="347.4" width="2.3" height="14" fill="rgb(23,23,23)"/>
<rect x="470.3" y="324.7" width="3" height="11.7" fill="rgb(33,33,33)"/>
<rect x="461.6" y="319.2" width="2.5" height="9.7" fill="rgb(26,26,26)"/>
<rect x="440.1" y="320.3" width="2.5" height="14.1" fill="rgb(26,26,26)"/>
<rect x="443" y="320.4" width="2" height="11.2" fill="rgb(37,37,37)"/>
<rect x="471.8" y="326" width="2" height="12" fill="rgb(42,42,42)"/>
<rect x="470.6" y="324.5" width="2.2" height="11.9" fill="rgb(29,29,29)"/>
<rect x="452.8" y="318.4" width="2.1" height="9.2" fill="rgb(37,37,37)"/>
<rect x="479.5" y="343" width="2.9" height="17.4" fill="rgb(42,42,42)"/>
<rect x="465.5" y="364.7" width="3" height="10.7" fill="rgb(35,35,35)"/>
<rect x="479.7" y="352.8" width="2.5" height="8.6" fill="rgb(24,24,24)"/>
<rect x="331.8" y="304.2" width="2" height="11.8" fill="rgb(38,38,38)"/>
<rect x="377.1" y="314.3" width="3.4" height="11.5" fill="rgb(31,31,31)"/>
<rect x="374.7" y="313" width="2.5" height="9.8" fill="rgb(41,41,41)"/>
<rect x="387.1" y="347.8" width="3.4" height="11.1" fill="rgb(28,28,28)"/>
<rect x="358.8" y="373" width="2.8" height="9.1" fill="rgb(39,39,39)"/>
<rect x="348" y="301.8" width="2.3" height="14.3" fill="rgb(43,43,43)"/>
<rect x="388.6" y="340.9" width="3.4" height="10.5" fill="rgb(35,35,35)"/>
<rect x="387.7" y="333.8" width="3.1" height="9.4" fill="rgb(34,34,34)"/>
<rect x="321.3" y="358.5" width="3.4" height="12.5" fill="rgb(42,42,42)"/>
<rect x="377.3" y="316.7" width="3.1" height="6.7" fill="rgb(45,45,45)"/>
<rect x="312.5" y="326.5" width="2.1" height="11.8" fill="rgb(32,32,32)"/>
<rect x="314.8" y="315" width="2.7" height="13.7" fill="rgb(47,47,47)"/>
<rect x="377.2" y="364.9" width="2.3" height="5" fill="rgb(44,44,44)"/>
<rect x="311.7" y="335.6" width="2.7" height="8.1" fill="rgb(45,45,45)"/>
<rect x="328.1" y="368.5" width="2.2" height="5.5" fill="rgb(41,41,41)"/>
<rect x="333" y="306.7" width="2.4" height="6.1" fill="rgb(31,31,31)"/>
<rect x="349.2" y="304.1" width="3.4" height="10" fill="rgb(34,34,34)"/>
<rect x="346.6" y="304" width="2.9" height="9.7" fill="rgb(27,27,27)"/>
<rect x="312.1" y="336.1" width="2.2" height="13.6" fill="rgb(48,48,48)"/>
<rect x="347.7" y="376.8" width="2.3" height="9.7" fill="rgb(45,45,45)"/>
<rect x="311.5" y="337.1" width="3.3" height="12.6" fill="rgb(34,34,34)"/>
<rect x="379.4" y="318.9" width="3.4" height="7.9" fill="rgb(36,36,36)"/>
<rect x="387.2" y="349.5" width="2.7" height="10.4" fill="rgb(43,43,43)"/>
<rect x="312.9" y="323.7" width="3.1" height="6.9" fill="rgb(47,47,47)"/>
<rect x="426.6" y="325.9" width="3" height="9.7" fill="rgb(40,40,40)"/>
<rect x="404.4" y="382.3" width="2.1" height="14.2" fill="rgb(32,32,32)"/>
<rect x="476.1" y="363.2" width="2.2" height="7.4" fill="rgb(48,48,48)"/>
<rect x="407.4" y="387.7" width="2.9" height="15.9" fill="rgb(48,48,48)"/>
<rect x="441.6" y="332.9" width="2.3" height="9" fill="rgb(41,41,41)"/>
<rect x="476.9" y="369" width="2.6" height="13.5" fill="rgb(49,49,49)"/>
<rect x="397.8" y="329.4" width="2.3" height="15.3" fill="rgb(28,28,28)"/>
<rect x="392.9" y="367.5" width="3" height="10.7" fill="rgb(27,27,27)"/>
<rect x="404.3" y="384.8" width="2.5" height="9.8" fill="rgb(43,43,43)"/>
<rect x="434.2" y="405" width="3.4" height="9.9" fill="rgb(36,36,36)"/>
<rect x="403.3" y="381.8" width="3.1" height="13.4" fill="rgb(49,49,49)"/>
<rect x="434.2" y="337.6" width="2.5" height="6.8" fill="rgb(37,37,37)"/>
<rect x="453.4" y="330.7" width="3.4" height="7.4" fill="rgb(33,33,33)"/>
<rect x="404.9" y="322.5" width="3.2" height="14.8" fill="rgb(33,33,33)"/>
<rect x="417.4" y="400.8" width="2" height="10.7" fill="rgb(41,41,41)"/>
<rect x="394.6" y="371.6" width="2.1" height="6.8" fill="rgb(31,31,31)"/>
<rect x="474.7" y="356" width="2.5" height="15.6" fill="rgb(39,39,39)"/>
<rect x="470.7" y="351.6" width="2.6" height="5.1" fill="rgb(34,34,34)"/>
<rect x="395.6" y="333.6" width="2.7" height="13.9" fill="rgb(32,32,32)"/>
<rect x="426.3" y="325.3" width="2.4" height="9.6" fill="rgb(27,27,27)"/>
<rect x="477.5" y="374.5" width="2.2" height="16" fill="rgb(44,44,44)"/>
<rect x="437.5" y="335.8" width="3.1" height="6.5" fill="rgb(44,44,44)"/>
<rect x="457.1" y="332.7" width="2.2" height="8.7" fill="rgb(27,27,27)"/>
<rect x="399" y="327.9" width="3.3" height="12.1" fill="rgb(47,47,47)"/>
<rect x="473.6" y="355.2" width="3.3" height="13.3" fill="rgb(49,49,49)"/>
<rect x="461.1" y="335.2" width="2.3" height="10.7" fill="rgb(30,30,30)"/>
<rect x="432" y="329.1" width="2.2" height="14.2" fill="rgb(44,44,44)"/>
<rect x="474.2" y="355.7" width="2.7" height="13.8" fill="rgb(48,48,48)"/>
<rect x="394.9" y="372.2" width="2.1" height="6.5" fill="rgb(37,37,37)"/>
<rect x="416" y="397.5" width="2.9" height="15.2" fill="rgb(27,27,27)"/>
<rect x="435.9" y="337.4" width="2.2" height="6.3" fill="rgb(44,44,44)"/>
<rect x="419.3" y="401" width="2.6" height="12.4" fill="rgb(38,38,38)"/>
<rect x="434" y="336.3" width="2.5" height="8.4" fill="rgb(41,41,41)"/>
<rect x="473.4" y="388.2" width="3.4" height="8" fill="rgb(48,48,48)"/>
<rect x="457" y="403.5" width="2.1" height="11.1" fill="rgb(36,36,36)"/>
<rect x="476.4" y="365.3" width="2.3" height="5.9" fill="rgb(31,31,31)"/>
<rect x="390.8" y="350.6" width="2.9" height="6.3" fill="rgb(29,29,29)"/>
<rect x="399.9" y="325.5" width="3" height="15.7" fill="rgb(36,36,36)"/>
<polygon points="378,346 392,349 403,351 403,369 392,368 380,364" fill="rgb(41,41,41)" />
<polygon points="334.4,311.7 324,315.2 317,323.7 315,335.5 315.1,347.5 320.4,358.8 328.6,368.1 337,375.2 348.1,379.9 357.6,376.6 367.1,371.8 377.2,365.8 386.2,356.5 388.8,344.1 385.4,332.4 377.9,321.8 368.6,314.8 356.1,311.7 345.7,310.6" fill="rgb(36,36,36)" />
<polygon points="411.8,328.5 402.4,335 396.3,345.7 393.3,357.7 394.7,369.5 399.8,378.2 405.7,385.9 411.2,395.7 420,405.1 434,407.7 449.1,409.8 462.6,405.7 471.8,395.4 476.7,382.8 475.6,368.3 471.2,357.1 465.6,346.1 454.6,336.4 441.5,339.8 435.1,344.2 434.9,344.6 432.5,338.5 424.9,330.1" fill="rgb(36,36,36)" />
<polygon points="334.9,314.3 325.4,317.4 319.4,324.7 317.6,335.7 317.7,346.9 322.6,357.4 330.4,366.2 338.4,373.1 348.3,377.3 356.4,374.3 365.8,369.5 375.6,363.7 384,355.3 386.2,344.2 383,333.6 376,323.6 367.5,317.2 355.6,314.3 345.7,313.2" fill="rgb(51,51,51)" />
<polygon points="412.6,331.7 404.9,337.1 399.4,346.9 396.6,358 397.8,368.4 402.5,376.3 408.5,384.1 413.9,393.9 421.4,402.2 434.5,404.5 449,406.5 460.8,402.9 469,393.7 473.5,382.4 472.4,369.1 468.2,358.5 462.9,348 453.8,339.5 442.9,342.7 435.9,347.3 432.9,347.1 429.7,340.3 423.4,333" fill="rgb(51,51,51)" />
<polygon points="382,346 392,350 401,354 401,364 392,362 382,357" fill="rgb(51,51,51)" />
<polygon points="335.6,317.6 327.2,320.3 322.6,325.9 321,336 321,346.2 325.4,355.5 332.8,363.8 340.2,370.2 348.5,373.9 355,371.2 364.2,366.5 373.5,361 381,353.6 382.8,344.4 380,335.1 373.5,325.9 366.1,320.3 355,317.6 345.7,316.6" fill="rgb(87,87,87)" />
<polygon points="413.5,335.8 408.2,339.7 403.3,348.5 400.8,358.3 401.8,367.1 406,373.9 412,381.8 417.4,391.5 423.3,398.4 435.1,400.3 448.8,402.3 458.5,399.4 465.4,391.5 469.3,381.8 468.3,370 464.4,360.2 459.5,350.4 452.7,343.6 444.8,346.5 437,351.4 430.2,350.4 426.2,342.6 421.4,336.7" fill="rgb(69,69,69)" />
<polygon points="336.1,320.1 328.5,322.4 324.9,326.8 323.5,336.2 323.4,345.6 327.5,354.1 334.6,362 341.6,368.1 348.7,371.4 353.9,368.9 363,364.3 372,359 378.8,352.4 380.3,344.5 377.8,336.2 371.7,327.6 365.1,322.6 354.6,320.1 345.7,319.1" fill="rgb(107,107,107)" />
<polygon points="413.2,337.5 408.5,341.9 404.6,349.6 402.3,358.4 403.4,366.8 407.5,373.6 413.2,381 418.2,390.6 424.1,396.9 435.3,399 448.8,400.8 458.1,397.8 463.9,390.5 467,381.1 464.9,371.1 459.8,362.4 452.4,356.1 444,354.5 436,356 429.7,354.3 425.9,345.5 421,338.7" fill="rgb(92,92,92)" />
<polygon points="413.7,339.3 410,343 406.2,350.3 404.1,358.6 405.1,366.2 409,372.5 414.7,380.1 419.7,389.6 424.8,395.3 435.6,397.2 448.8,399 457,396.3 462.3,389.6 465.2,381 463.3,371.8 458.4,363.5 451.6,357.7 444,356.3 436,357.8 428.4,355.6 424.3,346.4 420.1,340.2" fill="rgb(110,110,110)" />
<polygon points="336,320.5 328,323 323.5,329 322.3,342 325.5,353.5 332.8,361 341,366 349,368 356,365 363,359.5 369,352 371,344 369,335 364,328 356,322.5 346,320.5" fill="rgb(128,128,128)" />
<polygon points="414,342.5 408.5,350 407.4,360.4 412.4,370.5 418.4,382.4 424.6,391.5 436.7,396.7 451,397.6 460.5,390.2 461.7,379.6 457.6,369.3 449,362.9 437,364.9 428,363.2 422.2,354.9 420.3,344.7" fill="rgb(128,128,128)" />
<polygon points="336.5,323.7 329.1,325.9 324.5,332.3 323.5,342.5 326.3,351.8 332.8,358.2 342,361.9 350.3,361 357.7,355.5 360.9,346.2 359.6,337 354,328.7 345.7,324.4" fill="rgb(158,158,158)" />
<polygon points="431.1,371 425.3,375.9 424.3,381.8 431.1,389.6 442.9,393.5 452.7,391.5 456.6,385.7 452.7,377.8 444.8,371 437,369" fill="rgb(163,163,163)" />
<polygon points="336.7,325.7 330.3,327.5 326.4,332.9 325.5,342.3 328,350.8 333.9,356.5 342.3,359.9 349.5,359.1 356.1,354.3 358.9,346 357.7,337.7 352.7,330.2 345.2,326.3" fill="rgb(178,178,178)" />
<polygon points="334.6,329.6 328.2,335.1 327.2,344.4 331.9,351.8 340.2,353.6 347.6,349 349.4,339.7 345.7,332.3 340.2,329.2" fill="rgb(209,209,209)" />
<ellipse cx="337.4" cy="341.6" rx="5" ry="8.5" fill="rgb(250,250,250)"/>
<ellipse cx="416" cy="357" rx="3.5" ry="9" fill="rgb(168,168,168)"/>
<ellipse cx="442" cy="381.3" rx="11.5" ry="7.6" fill="rgb(176,176,176)" transform="rotate(25 442 381.3)"/>
<rect x="493.3" y="278" width="3.4" height="14" fill="rgb(20,20,20)"/>
</g></g>
<line x1="319.5" x2="322" y1="232.5" y2="232.5" stroke="#444" stroke-width="0.8"/>
<text x="316.5" y="235.3" text-anchor="end" font-size="7.6" fill="#222">12</text>
<line x1="319.5" x2="322" y1="272.5" y2="272.5" stroke="#444" stroke-width="0.8"/>
<text x="316.5" y="275.3" text-anchor="end" font-size="7.6" fill="#222">11</text>
<line x1="319.5" x2="322" y1="313.8" y2="313.8" stroke="#444" stroke-width="0.8"/>
<text x="316.5" y="316.6" text-anchor="end" font-size="7.6" fill="#222">10</text>
<line x1="319.5" x2="322" y1="355" y2="355" stroke="#444" stroke-width="0.8"/>
<text x="316.5" y="357.8" text-anchor="end" font-size="7.6" fill="#222">9</text>
<line x1="319.5" x2="322" y1="395.8" y2="395.8" stroke="#444" stroke-width="0.8"/>
<text x="316.5" y="398.6" text-anchor="end" font-size="7.6" fill="#222">8</text>
<line x1="347.5" x2="347.5" y1="415.7" y2="418" stroke="#444" stroke-width="0.8"/>
<text x="347.5" y="429" text-anchor="middle" font-size="7.6" fill="#222">4</text>
<line x1="387" x2="387" y1="415.7" y2="418" stroke="#444" stroke-width="0.8"/>
<text x="387" y="429" text-anchor="middle" font-size="7.6" fill="#222">6</text>
<line x1="426.5" x2="426.5" y1="415.7" y2="418" stroke="#444" stroke-width="0.8"/>
<text x="426.5" y="429" text-anchor="middle" font-size="7.6" fill="#222">8</text>
<line x1="465.8" x2="465.8" y1="415.7" y2="418" stroke="#444" stroke-width="0.8"/>
<text x="465.8" y="429" text-anchor="middle" font-size="7.6" fill="#222">10</text>
<line x1="505" x2="505" y1="415.7" y2="418" stroke="#444" stroke-width="0.8"/>
<text x="505" y="429" text-anchor="middle" font-size="7.6" fill="#222">12</text>
<text x="413.5" y="443" text-anchor="middle" font-size="8.3" fill="#222">rmsd (A)</text>
<text transform="translate(297.8,326) rotate(-90)" text-anchor="middle" font-size="8.1" fill="#222">R<tspan dy="2" font-size="8.1">g</tspan><tspan dy="-2"> (A)</tspan></text>
<text x="487.4" y="249.1" font-size="13.8" fill="#400">(d)</text>
<rect x="522" y="253.8" width="26" height="10.6" fill="#37379e"/>
<text x="554" y="263.4" font-size="11.5" fill="#111">-4.0</text>
<rect x="522" y="274.1" width="26" height="10.6" fill="#00007f"/>
<text x="554" y="283.7" font-size="11.5" fill="#111">-3.0</text>
<rect x="522" y="294.3" width="26" height="10.6" fill="#0000ff"/>
<text x="554" y="303.9" font-size="11.5" fill="#111">-2.0</text>
<rect x="522" y="314.6" width="26" height="10.6" fill="#00ff00"/>
<text x="554" y="324.2" font-size="11.5" fill="#111">-1.0</text>
<rect x="522" y="334.8" width="26" height="10.6" fill="#ffff00"/>
<text x="559" y="344.4" font-size="11.5" fill="#111">0.0</text>
<rect x="522" y="355.1" width="26" height="10.6" fill="#ff0000"/>
<text x="559.5" y="359.8" font-size="11.5" fill="#111">unde-</text>
<text x="559.5" y="373.4" font-size="11.5" fill="#111">fined</text>
</g>
</svg>
</body></html>
